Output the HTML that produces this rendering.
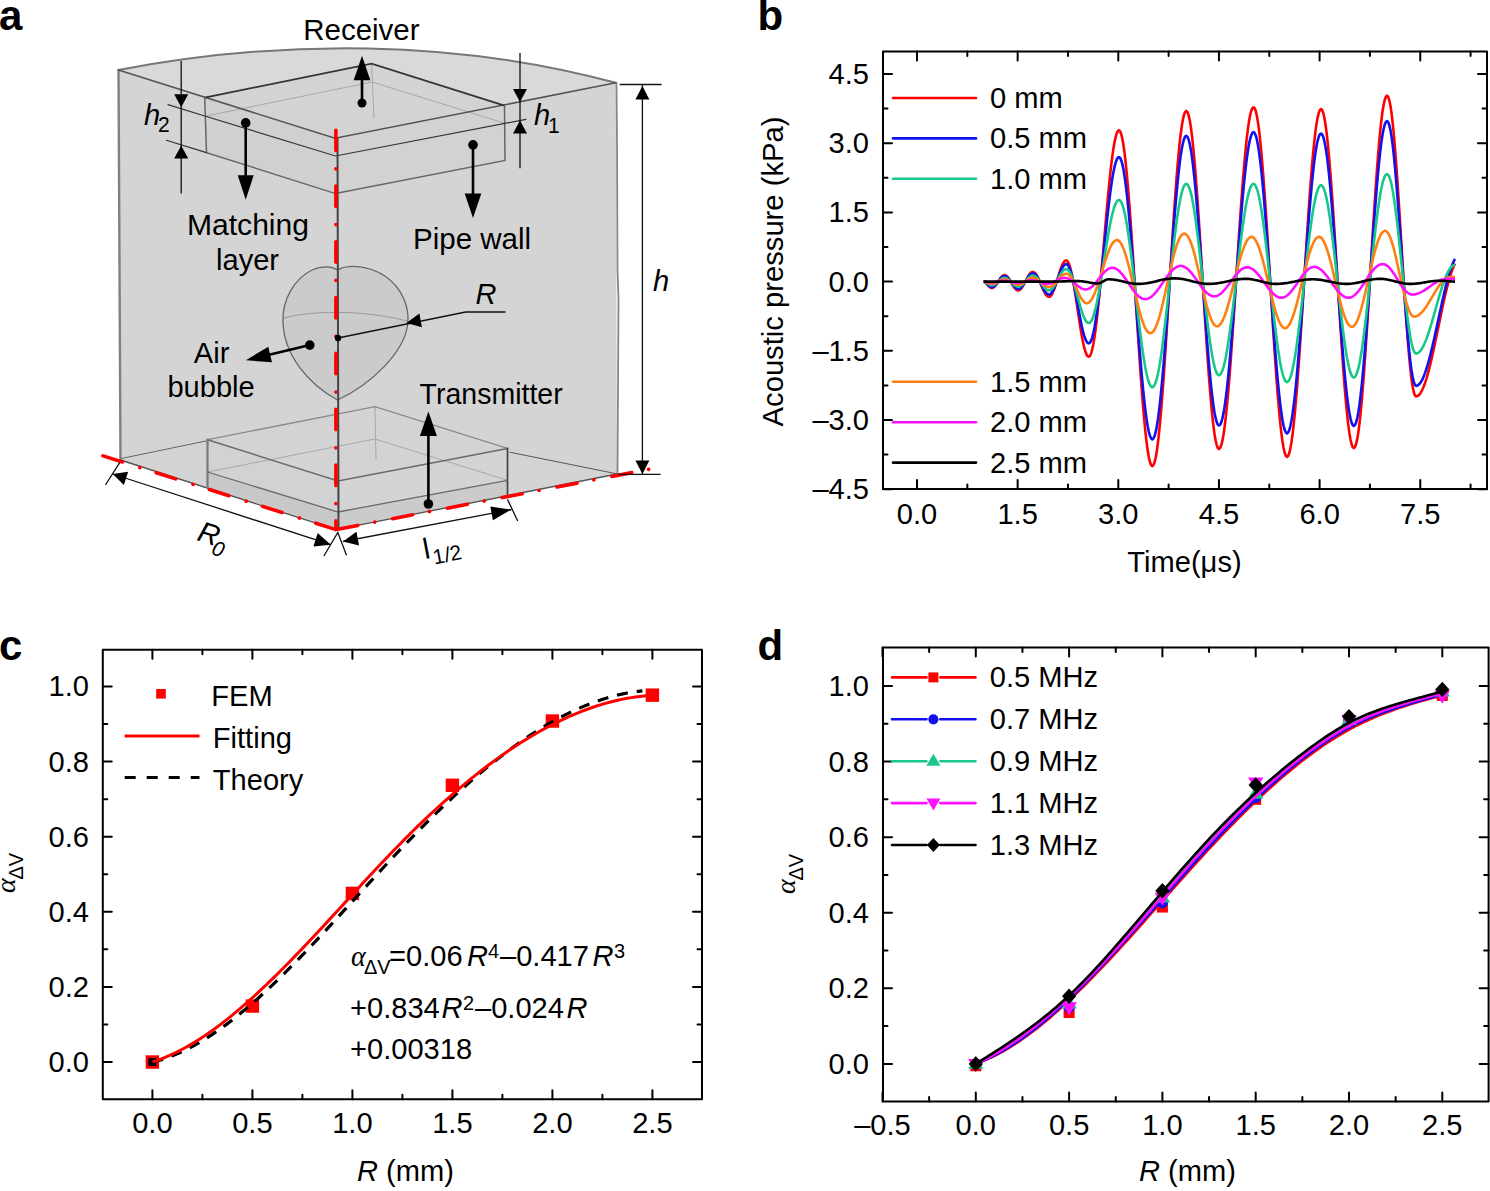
<!DOCTYPE html>
<html><head><meta charset="utf-8"><style>
html,body{margin:0;padding:0;background:#fff;}
svg{display:block;}
</style></head><body>
<svg width="1490" height="1191" viewBox="0 0 1490 1191">
<rect width="1490" height="1191" fill="#fff"/>
<path d="M118.5,70 C281.2,38.8 455.5,39.3 615.8,82.8 L617,474 L336,529.6 L120.5,460 Z" fill="#d4d4d4"/>
<path d="M118.5,70 C281.2,38.8 455.5,39.3 615.8,82.8 L335,138.3 Z" fill="#d9d9d9"/>
<path d="M204.7,97.6 L335.5,138.5 L335.5,193.6 L206.5,152.6 Z" fill="#d0d0d0"/>
<path d="M335.5,138.5 L504.5,105.6 L505,160.4 L335.5,193.6 Z" fill="#d2d2d2"/>
<path d="M204.7,97.6 L371.6,63.7 L504.5,105.6 L335.5,138.5 Z" fill="#d3d3d3"/>
<path d="M207.5,439.7 L338,481 L338,528 L207.5,487.7 Z" fill="#d2d2d2"/>
<path d="M338,481 L507.5,448.4 L507.5,495.6 L338,528 Z" fill="#d4d4d4"/>
<path d="M207.5,472 L338,512 L338,528 L207.5,487.7 Z" fill="#c8c8c8"/>
<path d="M338,512 L507.5,480.3 L507.5,495.6 L338,528 Z" fill="#cbcbcb"/>
<path d="M207.5,439.7 L375,406.6 L507.5,448.4 L338,481 Z" fill="#d3d3d3"/>
<path d="M337.6,270 C346,265 366,264 385,276 C402,288 410,307 407.6,325 C404,352 372,384 337.6,400 C308,384 284,355 283,322 C282,300 294,279 312,270 C322,266 331,266 337.6,270 Z" fill="#cbcbcb" stroke="#666" stroke-width="1.3"/>
<path d="M284,318 C310,311 360,309 407,321" fill="none" stroke="#999" stroke-width="1"/>
<g stroke="#a8a8a8" stroke-width="1" fill="none">
<path d="M120.8,458.6 L207.5,440.7" stroke="#666"/><path d="M509.7,452.2 L617.2,473.9" stroke="#555"/>
<path d="M371.6,63.7 L374,118.7"/><path d="M375,406.6 L376,460"/>
<path d="M206,116 L372,82 L504,123"/>
<path d="M207.5,472 L375,439 L507.5,480.3"/>
</g>
<g fill="none" stroke-linecap="round">
<path d="M118.5,70 C281.2,38.8 455.5,39.3 615.8,82.8" stroke="#777" stroke-width="2"/>
<path d="M118.5,70 L120.5,460" stroke="#808080" stroke-width="2.4"/>
<path d="M616.5,83 L617,140 L617.5,270 L618.5,300 L617.5,474" stroke="#868686" stroke-width="1.8"/>
<path d="M118.5,70 L335,138.3 L615.8,82.8" stroke="#555" stroke-width="1.6"/>
<path d="M120.5,460 L336,529.6 L617,474" stroke="#555" stroke-width="1.4"/>
<path d="M204.7,97.6 L371.6,63.7 L504.5,105.6" stroke="#333" stroke-width="1.7"/>
<path d="M204.7,97.6 L206.5,152.6 L335.5,193.6 L505,160.4 L504.5,105.6" stroke="#666" stroke-width="1.5"/>
<path d="M168,104.6 L204.7,116 L335.5,156 L526,119.4" stroke="#333" stroke-width="1.2"/>
<path d="M166.3,140.3 L206.5,152.6" stroke="#333" stroke-width="1.2"/>
<path d="M207.5,439.7 L375,406.6 L507.5,448.4" stroke="#8a8a8a" stroke-width="1.3"/>
<path d="M207.5,439.7 L338,481 L507.5,448.4" stroke="#6a6a6a" stroke-width="1.5"/>
<path d="M207.5,439.7 L207.5,487.7" stroke="#7a7a7a" stroke-width="2.2"/>
<path d="M507.5,448.4 L507.5,495.6" stroke="#444" stroke-width="1.7"/>
<path d="M207.5,472 L338,512 L507.5,480.3" stroke="#6a6a6a" stroke-width="1.3"/>
<path d="M337.5,138.5 L338.5,529" stroke="#444" stroke-width="2"/>
</g>
<g stroke="#ff0000" stroke-width="3.6" fill="none" stroke-linecap="round" stroke-dasharray="20.4 17.1 0.1 18.2">
<path d="M336,529.6 L99.6,454.8" stroke-dashoffset="-0.8"/>
<path d="M336,529.6 L651.6,468.8" stroke-dashoffset="-1.8"/>
<path d="M335.9,529.6 L335.9,127" stroke-dashoffset="11.6"/>
</g>
<g stroke="#111" stroke-width="1.3" fill="none">
<path d="M181.2,61 L181.2,193.6"/>
<path d="M520,53 L520,168.3"/>
<path d="M642.4,84.5 L642.4,474.4 M619.7,84.5 L661.6,84.5 M618.5,474.4 L660.6,474.4"/>
<path d="M112.7,474 L330.8,544.7"/>
<path d="M105.4,485 L119.7,462.7 M323.9,556 L337.8,532.5 L346.5,555.2"/>
<path d="M343,541.5 L511.3,509.6 M507.5,499.4 L517.7,521"/>
<path d="M338,338 L465.6,312 L505.5,312"/>
</g>
<polygon points="181.2,107.2 174.2,94.2 188.2,94.2" fill="#000"/>
<polygon points="181.2,145.6 188.2,158.6 174.2,158.6" fill="#000"/>
<polygon points="520,102 513,89 527,89" fill="#000"/>
<polygon points="520,120.4 527,133.4 513,133.4" fill="#000"/>
<polygon points="642.4,86 649.4,99.5 635.4,99.5" fill="#000"/>
<polygon points="642.4,474 635.4,460.5 649.4,460.5" fill="#000"/>
<polygon points="112.7,474 128.18,471.66 123.86,484.98" fill="#000"/>
<polygon points="330.8,544.7 313.42,546.43 317.74,533.11" fill="#000"/>
<polygon points="343,541.5 356.43,531.83 359.04,545.58" fill="#000"/>
<polygon points="511.3,509.6 492.95,520.2 490.35,506.45" fill="#000"/>
<polygon points="406.4,322.9 419.39,313.39 421.93,327.16" fill="#000"/>
<g stroke="#000" stroke-width="2.6" fill="none">
<path d="M362,103 L362,70"/>
<path d="M245.7,122.9 L245.7,180"/>
<path d="M473,144.9 L473,200"/>
<path d="M309.8,345.1 L262,356.5"/>
<path d="M428.4,504 L428.4,425"/>
</g>
<circle cx="362" cy="103" r="4.5" fill="#000"/>
<circle cx="245.7" cy="122.9" r="4.8" fill="#000"/>
<circle cx="473" cy="144.9" r="4.8" fill="#000"/>
<circle cx="309.8" cy="345.1" r="4.8" fill="#000"/>
<circle cx="428.4" cy="504" r="4.8" fill="#000"/>
<circle cx="338" cy="338" r="3.2" fill="#000"/>
<polygon points="362,55.8 370.3,80.3 353.7,80.3" fill="#000"/>
<polygon points="245.7,199.7 237.7,175.2 253.7,175.2" fill="#000"/>
<polygon points="473,218.1 464.7,193.6 481.3,193.6" fill="#000"/>
<polygon points="245.8,360.3 268.27,346.74 271.97,362.31" fill="#000"/>
<polygon points="428.4,411.4 436.9,436 419.9,436" fill="#000"/>
<text x="303.2" y="39.8" font-family='"Liberation Sans", sans-serif' font-size="29.1" lengthAdjust="spacingAndGlyphs" textLength="116.4" transform="matrix(1 0 0 1.045 0 -1.79)">Receiver</text>
<text x="187" y="234.7" font-family='"Liberation Sans", sans-serif' font-size="29.1" lengthAdjust="spacingAndGlyphs" textLength="122" transform="matrix(1 0 0 1.045 0 -10.56)">Matching</text>
<text x="216" y="269.7" font-family='"Liberation Sans", sans-serif' font-size="29.1" transform="matrix(1 0 0 1.045 0 -12.14)">layer</text>
<text x="413" y="248.7" font-family='"Liberation Sans", sans-serif' font-size="29.1" lengthAdjust="spacingAndGlyphs" textLength="118.1" transform="matrix(1 0 0 1.045 0 -11.19)">Pipe wall</text>
<text x="193.8" y="362.7" font-family='"Liberation Sans", sans-serif' font-size="29.1" transform="matrix(1 0 0 1.045 0 -16.32)">Air</text>
<text x="167.4" y="397.3" font-family='"Liberation Sans", sans-serif' font-size="29.1" transform="matrix(1 0 0 1.045 0 -17.88)">bubble</text>
<text x="419.6" y="403.7" font-family='"Liberation Sans", sans-serif' font-size="29.1" lengthAdjust="spacingAndGlyphs" textLength="143.1" transform="matrix(1 0 0 1.045 0 -18.17)">Transmitter</text>
<text x="475.5" y="304" font-family='"Liberation Sans", sans-serif' font-size="29.1" font-style="italic" transform="matrix(1 0 0 1.045 0 -13.68)">R</text>
<text x="653" y="290.8" font-family='"Liberation Sans", sans-serif' font-size="29.1" font-style="italic" transform="matrix(1 0 0 1.045 0 -13.09)">h</text>
<text x="144" y="124.6" font-family='"Liberation Sans", sans-serif' font-size="29.1" font-style="italic" transform="matrix(1 0 0 1.045 0 -5.61)">h</text>
<text x="158" y="132.5" font-family='"Liberation Sans", sans-serif' font-size="21" transform="matrix(1 0 0 1.045 0 -5.96)">2</text>
<text x="534" y="124.6" font-family='"Liberation Sans", sans-serif' font-size="29.1" font-style="italic" transform="matrix(1 0 0 1.045 0 -5.61)">h</text>
<text x="548" y="133.4" font-family='"Liberation Sans", sans-serif' font-size="21" transform="matrix(1 0 0 1.045 0 -6)">1</text>
<g transform="translate(196,540) rotate(17.6)"><text x="0" y="0" font-family='"Liberation Sans", sans-serif' font-size="29.1" font-style="italic">R</text><text x="18" y="9" font-family='"Liberation Sans", sans-serif' font-size="21" font-style="italic">0</text></g>
<g transform="translate(425,559) rotate(-10.8)"><text x="0" y="0" font-family='"Liberation Sans", sans-serif' font-size="29.1">l</text><text x="8" y="7" font-family='"Liberation Sans", sans-serif' font-size="21">1/2</text></g>
<rect x="883" y="51.6" width="604" height="437.4" fill="none" stroke="#000" stroke-width="2.0" stroke-linejoin="round"/>
<path d="M917,489v-9 M917,51.6v9 M1017.65,489v-9 M1017.65,51.6v9 M1118.3,489v-9 M1118.3,51.6v9 M1218.95,489v-9 M1218.95,51.6v9 M1319.6,489v-9 M1319.6,51.6v9 M1420.25,489v-9 M1420.25,51.6v9 M967.33,489v-4.5 M967.33,51.6v4.5 M1067.97,489v-4.5 M1067.97,51.6v4.5 M1168.62,489v-4.5 M1168.62,51.6v4.5 M1269.28,489v-4.5 M1269.28,51.6v4.5 M1369.92,489v-4.5 M1369.92,51.6v4.5 M1470.57,489v-4.5 M1470.57,51.6v4.5 M883,74.02h9 M1487,74.02h-9 M883,143.21h9 M1487,143.21h-9 M883,212.41h9 M1487,212.41h-9 M883,281.6h9 M1487,281.6h-9 M883,350.8h9 M1487,350.8h-9 M883,419.99h9 M1487,419.99h-9 M883,489.19h9 M1487,489.19h-9 M883,108.61h4.5 M1487,108.61h-4.5 M883,177.81h4.5 M1487,177.81h-4.5 M883,247h4.5 M1487,247h-4.5 M883,316.2h4.5 M1487,316.2h-4.5 M883,385.39h4.5 M1487,385.39h-4.5 M883,454.59h4.5 M1487,454.59h-4.5" stroke="#000" stroke-width="2.0" fill="none" stroke-linecap="round"/>
<text x="917" y="524.3" text-anchor="middle" font-family='"Liberation Sans", sans-serif' font-size="29.1" transform="matrix(1 0 0 1.045 0 -23.59)">0.0</text>
<text x="1017.65" y="524.3" text-anchor="middle" font-family='"Liberation Sans", sans-serif' font-size="29.1" transform="matrix(1 0 0 1.045 0 -23.59)">1.5</text>
<text x="1118.3" y="524.3" text-anchor="middle" font-family='"Liberation Sans", sans-serif' font-size="29.1" transform="matrix(1 0 0 1.045 0 -23.59)">3.0</text>
<text x="1218.95" y="524.3" text-anchor="middle" font-family='"Liberation Sans", sans-serif' font-size="29.1" transform="matrix(1 0 0 1.045 0 -23.59)">4.5</text>
<text x="1319.6" y="524.3" text-anchor="middle" font-family='"Liberation Sans", sans-serif' font-size="29.1" transform="matrix(1 0 0 1.045 0 -23.59)">6.0</text>
<text x="1420.25" y="524.3" text-anchor="middle" font-family='"Liberation Sans", sans-serif' font-size="29.1" transform="matrix(1 0 0 1.045 0 -23.59)">7.5</text>
<text x="869" y="84.02" text-anchor="end" font-family='"Liberation Sans", sans-serif' font-size="29.1" transform="matrix(1 0 0 1.045 0 -3.78)">4.5</text>
<text x="869" y="153.21" text-anchor="end" font-family='"Liberation Sans", sans-serif' font-size="29.1" transform="matrix(1 0 0 1.045 0 -6.89)">3.0</text>
<text x="869" y="222.41" text-anchor="end" font-family='"Liberation Sans", sans-serif' font-size="29.1" transform="matrix(1 0 0 1.045 0 -10.01)">1.5</text>
<text x="869" y="291.6" text-anchor="end" font-family='"Liberation Sans", sans-serif' font-size="29.1" transform="matrix(1 0 0 1.045 0 -13.12)">0.0</text>
<text x="869" y="360.8" text-anchor="end" font-family='"Liberation Sans", sans-serif' font-size="29.1" transform="matrix(1 0 0 1.045 0 -16.24)">–1.5</text>
<text x="869" y="429.99" text-anchor="end" font-family='"Liberation Sans", sans-serif' font-size="29.1" transform="matrix(1 0 0 1.045 0 -19.35)">–3.0</text>
<text x="869" y="499.19" text-anchor="end" font-family='"Liberation Sans", sans-serif' font-size="29.1" transform="matrix(1 0 0 1.045 0 -22.46)">–4.5</text>
<text x="1184.5" y="572.2" text-anchor="middle" font-family='"Liberation Sans", sans-serif' font-size="29.1" transform="matrix(1 0 0 1.045 0 -25.75)">Time(μs)</text>
<text transform="translate(783,271.5) rotate(-90)" text-anchor="middle" font-family='"Liberation Sans", sans-serif' font-size="29.2">Acoustic pressure (kPa)</text>
<path d="M983.5,281.6 L984.68,281.92 L985.87,282.82 L987.06,284.11 L988.25,285.55 L989.44,286.84 L990.63,287.74 L991.82,288.06 L992.97,287.8 L994.12,287.03 L995.28,285.83 L996.43,284.28 L997.58,282.52 L998.73,280.68 L999.89,278.92 L1001.04,277.37 L1002.19,276.17 L1003.35,275.4 L1004.5,275.14 L1005.64,275.4 L1006.78,276.16 L1007.92,277.37 L1009.06,278.95 L1010.2,280.78 L1011.34,282.75 L1012.48,284.72 L1013.62,286.56 L1014.76,288.14 L1015.91,289.34 L1017.05,290.11 L1018.19,290.36 L1019.32,290.1 L1020.45,289.31 L1021.58,288.04 L1022.71,286.38 L1023.84,284.41 L1024.97,282.25 L1026.1,280.03 L1027.23,277.87 L1028.36,275.9 L1029.49,274.23 L1030.62,272.97 L1031.75,272.18 L1032.88,271.91 L1034.03,272.22 L1035.18,273.15 L1036.33,274.63 L1037.48,276.6 L1038.63,278.96 L1039.78,281.6 L1040.93,284.37 L1042.08,287.14 L1043.23,289.77 L1044.38,292.13 L1045.53,294.11 L1046.69,295.59 L1047.84,296.51 L1048.99,296.82 L1050.14,296.42 L1051.28,295.25 L1052.43,293.34 L1053.58,290.79 L1054.73,287.71 L1055.88,284.23 L1057.03,280.51 L1058.18,276.7 L1059.33,272.97 L1060.48,269.49 L1061.63,266.41 L1062.78,263.86 L1063.93,261.96 L1065.08,260.78 L1066.23,260.38 L1067.36,260.97 L1068.48,262.74 L1069.61,265.63 L1070.74,269.59 L1071.87,274.5 L1072.99,280.25 L1074.12,286.7 L1075.25,293.69 L1076.38,301.04 L1077.5,308.59 L1078.63,316.13 L1079.76,323.48 L1080.89,330.47 L1082.01,336.92 L1083.14,342.67 L1084.27,347.59 L1085.39,351.54 L1086.52,354.43 L1087.65,356.2 L1088.78,356.79 L1089.94,355.97 L1091.1,353.5 L1092.26,349.43 L1093.42,343.82 L1094.58,336.74 L1095.74,328.31 L1096.91,318.64 L1098.07,307.88 L1099.23,296.17 L1100.39,283.7 L1101.55,270.65 L1102.71,257.19 L1103.87,243.54 L1105.03,229.89 L1106.2,216.44 L1107.36,203.38 L1108.52,190.91 L1109.68,179.21 L1110.84,168.44 L1112,158.77 L1113.16,150.34 L1114.33,143.27 L1115.49,137.65 L1116.65,133.58 L1117.81,131.12 L1118.97,130.29 L1120.12,131.28 L1121.27,134.22 L1122.42,139.08 L1123.57,145.81 L1124.72,154.33 L1125.87,164.53 L1127.02,176.3 L1128.17,189.5 L1129.32,203.98 L1130.47,219.55 L1131.62,236.06 L1132.77,253.29 L1133.92,271.04 L1135.07,289.12 L1136.22,307.3 L1137.37,325.37 L1138.52,343.13 L1139.67,360.36 L1140.82,376.86 L1141.97,392.44 L1143.12,406.91 L1144.27,420.11 L1145.42,431.88 L1146.57,442.08 L1147.72,450.6 L1148.87,457.33 L1150.02,462.19 L1151.17,465.14 L1152.32,466.12 L1153.45,465.15 L1154.58,462.24 L1155.71,457.43 L1156.85,450.77 L1157.98,442.33 L1159.11,432.2 L1160.24,420.5 L1161.37,407.36 L1162.51,392.91 L1163.64,377.32 L1164.77,360.76 L1165.9,343.4 L1167.03,325.44 L1168.16,307.08 L1169.3,288.52 L1170.43,269.96 L1171.56,251.59 L1172.69,233.64 L1173.82,216.28 L1174.95,199.72 L1176.09,184.13 L1177.22,169.68 L1178.35,156.54 L1179.48,144.84 L1180.61,134.71 L1181.75,126.27 L1182.88,119.61 L1184.01,114.8 L1185.14,111.89 L1186.27,110.92 L1187.4,111.91 L1188.53,114.87 L1189.65,119.77 L1190.78,126.54 L1191.91,135.12 L1193.03,145.39 L1194.16,157.24 L1195.29,170.53 L1196.41,185.11 L1197.54,200.79 L1198.67,217.41 L1199.79,234.76 L1200.92,252.63 L1202.05,270.83 L1203.17,289.14 L1204.3,307.34 L1205.43,325.22 L1206.56,342.56 L1207.68,359.18 L1208.81,374.86 L1209.94,389.44 L1211.06,402.73 L1212.19,414.58 L1213.32,424.85 L1214.44,433.43 L1215.57,440.2 L1216.7,445.1 L1217.82,448.06 L1218.95,449.05 L1220.1,448.12 L1221.25,445.32 L1222.41,440.69 L1223.56,434.28 L1224.71,426.15 L1225.86,416.41 L1227.01,405.15 L1228.17,392.5 L1229.32,378.6 L1230.47,363.6 L1231.62,347.66 L1232.77,330.95 L1233.92,313.67 L1235.08,296.01 L1236.23,278.14 L1237.38,260.28 L1238.53,242.61 L1239.68,225.33 L1240.84,208.62 L1241.99,192.68 L1243.14,177.68 L1244.29,163.78 L1245.44,151.13 L1246.6,139.87 L1247.75,130.13 L1248.9,122 L1250.05,115.59 L1251.2,110.96 L1252.35,108.16 L1253.51,107.23 L1254.66,108.25 L1255.82,111.32 L1256.97,116.38 L1258.12,123.39 L1259.28,132.25 L1260.43,142.88 L1261.59,155.13 L1262.74,168.88 L1263.9,183.95 L1265.05,200.17 L1266.21,217.35 L1267.36,235.29 L1268.52,253.78 L1269.67,272.6 L1270.83,291.53 L1271.98,310.35 L1273.13,328.83 L1274.29,346.77 L1275.44,363.95 L1276.6,380.18 L1277.75,395.25 L1278.91,408.99 L1280.06,421.24 L1281.22,431.87 L1282.37,440.74 L1283.53,447.74 L1284.68,452.81 L1285.83,455.87 L1286.99,456.89 L1288.12,455.94 L1289.26,453.09 L1290.39,448.38 L1291.53,441.86 L1292.66,433.59 L1293.79,423.68 L1294.93,412.22 L1296.06,399.35 L1297.2,385.21 L1298.33,369.94 L1299.46,353.72 L1300.6,336.73 L1301.73,319.14 L1302.87,301.16 L1304,282.98 L1305.13,264.81 L1306.27,246.83 L1307.4,229.24 L1308.54,212.25 L1309.67,196.03 L1310.8,180.76 L1311.94,166.62 L1313.07,153.74 L1314.21,142.29 L1315.34,132.37 L1316.47,124.11 L1317.61,117.59 L1318.74,112.87 L1319.88,110.03 L1321.01,109.07 L1322.14,110.07 L1323.27,113.04 L1324.4,117.95 L1325.53,124.74 L1326.67,133.34 L1327.8,143.64 L1328.93,155.53 L1330.06,168.85 L1331.19,183.46 L1332.32,199.19 L1333.45,215.85 L1334.59,233.25 L1335.72,251.18 L1336.85,269.42 L1337.98,287.78 L1339.11,306.03 L1340.24,323.96 L1341.38,341.35 L1342.51,358.01 L1343.64,373.74 L1344.77,388.35 L1345.9,401.68 L1347.03,413.56 L1348.16,423.86 L1349.3,432.46 L1350.43,439.26 L1351.56,444.17 L1352.69,447.14 L1353.82,448.13 L1354.97,447.1 L1356.11,444.01 L1357.26,438.9 L1358.4,431.84 L1359.55,422.91 L1360.69,412.2 L1361.84,399.85 L1362.98,385.99 L1364.13,370.8 L1365.27,354.45 L1366.42,337.14 L1367.56,319.06 L1368.71,300.42 L1369.86,281.45 L1371,262.37 L1372.15,243.4 L1373.29,224.77 L1374.44,206.69 L1375.58,189.37 L1376.73,173.02 L1377.87,157.83 L1379.02,143.98 L1380.16,131.63 L1381.31,120.92 L1382.45,111.98 L1383.6,104.92 L1384.74,99.82 L1385.89,96.73 L1387.04,95.7 L1388.19,96.88 L1389.35,100.42 L1390.51,106.26 L1391.67,114.3 L1392.83,124.42 L1393.99,136.45 L1395.15,150.22 L1396.31,165.5 L1397.47,182.05 L1398.63,199.61 L1399.79,217.9 L1400.95,236.64 L1402.11,255.52 L1403.27,274.26 L1404.43,292.55 L1405.59,310.11 L1406.75,326.66 L1407.91,341.94 L1409.07,355.7 L1410.23,367.74 L1411.38,377.86 L1412.54,385.9 L1413.7,391.74 L1414.86,395.28 L1416.02,396.46 L1417.16,396.24 L1418.3,395.57 L1419.44,394.46 L1420.59,392.91 L1421.73,390.95 L1422.87,388.56 L1424.01,385.79 L1425.15,382.63 L1426.29,379.12 L1427.43,375.27 L1428.57,371.12 L1429.71,366.68 L1430.85,361.98 L1431.99,357.06 L1433.13,351.95 L1434.27,346.69 L1435.41,341.29 L1436.56,335.81 L1437.7,330.28 L1438.84,324.72 L1439.98,319.19 L1441.12,313.7 L1442.26,308.31 L1443.4,303.04 L1444.54,297.93 L1445.68,293.02 L1446.82,288.32 L1447.96,283.88 L1449.1,279.73 L1450.24,275.88 L1451.38,272.37 L1452.53,269.21 L1453.67,266.43 L1454.81,264.05 L1455.01,263.68" fill="none" stroke="#ff0000" stroke-width="2.6" stroke-linejoin="round"/>
<path d="M983.5,281.6 L984.68,281.87 L985.87,282.64 L987.06,283.75 L988.25,284.98 L989.44,286.09 L990.63,286.86 L991.82,287.14 L992.97,286.91 L994.12,286.26 L995.28,285.23 L996.43,283.9 L997.58,282.39 L998.73,280.81 L999.89,279.3 L1001.04,277.97 L1002.19,276.94 L1003.35,276.29 L1004.5,276.06 L1005.64,276.28 L1006.78,276.93 L1007.92,277.96 L1009.06,279.29 L1010.2,280.85 L1011.34,282.52 L1012.48,284.19 L1013.62,285.75 L1014.76,287.09 L1015.91,288.12 L1017.05,288.76 L1018.19,288.98 L1019.32,288.75 L1020.45,288.08 L1021.58,287.01 L1022.71,285.59 L1023.84,283.92 L1024.97,282.08 L1026.1,280.19 L1027.23,278.36 L1028.36,276.68 L1029.49,275.27 L1030.62,274.19 L1031.75,273.52 L1032.88,273.3 L1034.03,273.56 L1035.18,274.35 L1036.33,275.61 L1037.48,277.29 L1038.63,279.3 L1039.78,281.55 L1040.93,283.91 L1042.08,286.27 L1043.23,288.51 L1044.38,290.52 L1045.53,292.2 L1046.69,293.47 L1047.84,294.25 L1048.99,294.52 L1050.14,294.18 L1051.28,293.2 L1052.43,291.61 L1053.58,289.48 L1054.73,286.9 L1055.88,284 L1057.03,280.88 L1058.18,277.7 L1059.33,274.59 L1060.48,271.68 L1061.63,269.11 L1062.78,266.98 L1063.93,265.39 L1065.08,264.4 L1066.23,264.07 L1067.36,264.56 L1068.48,266.01 L1069.61,268.39 L1070.74,271.65 L1071.87,275.69 L1072.99,280.42 L1074.12,285.73 L1075.25,291.48 L1076.38,297.54 L1077.5,303.74 L1078.63,309.95 L1079.76,316 L1080.89,321.75 L1082.01,327.06 L1083.14,331.79 L1084.27,335.84 L1085.39,339.09 L1086.52,341.47 L1087.65,342.93 L1088.78,343.41 L1089.94,342.73 L1091.1,340.71 L1092.26,337.36 L1093.42,332.74 L1094.58,326.92 L1095.74,319.98 L1096.91,312.02 L1098.07,303.17 L1099.23,293.54 L1100.39,283.27 L1101.55,272.53 L1102.71,261.46 L1103.87,250.23 L1105.03,239 L1106.2,227.93 L1107.36,217.19 L1108.52,206.93 L1109.68,197.3 L1110.84,188.44 L1112,180.48 L1113.16,173.54 L1114.33,167.72 L1115.49,163.1 L1116.65,159.76 L1117.81,157.73 L1118.97,157.05 L1120.12,157.88 L1121.27,160.35 L1122.42,164.44 L1123.57,170.1 L1124.72,177.25 L1125.87,185.83 L1127.02,195.73 L1128.17,206.82 L1129.32,218.99 L1130.47,232.09 L1131.62,245.96 L1132.77,260.44 L1133.92,275.37 L1135.07,290.56 L1136.22,305.85 L1137.37,321.04 L1138.52,335.97 L1139.67,350.45 L1140.82,364.33 L1141.97,377.42 L1143.12,389.59 L1144.27,400.69 L1145.42,410.58 L1146.57,419.16 L1147.72,426.32 L1148.87,431.98 L1150.02,436.06 L1151.17,438.54 L1152.32,439.36 L1153.45,438.53 L1154.58,436.05 L1155.71,431.94 L1156.85,426.24 L1157.98,419.03 L1159.11,410.38 L1160.24,400.38 L1161.37,389.15 L1162.51,376.8 L1163.64,363.48 L1164.77,349.33 L1165.9,334.5 L1167.03,319.15 L1168.16,303.46 L1169.3,287.6 L1170.43,271.73 L1171.56,256.04 L1172.69,240.7 L1173.82,225.87 L1174.95,211.71 L1176.09,198.39 L1177.22,186.04 L1178.35,174.81 L1179.48,164.81 L1180.61,156.16 L1181.75,148.95 L1182.88,143.26 L1184.01,139.15 L1185.14,136.66 L1186.27,135.83 L1187.4,136.68 L1188.53,139.22 L1189.65,143.41 L1190.78,149.22 L1191.91,156.56 L1193.03,165.36 L1194.16,175.52 L1195.29,186.9 L1196.41,199.39 L1197.54,212.83 L1198.67,227.06 L1199.79,241.93 L1200.92,257.24 L1202.05,272.84 L1203.17,288.52 L1204.3,304.11 L1205.43,319.43 L1206.56,334.29 L1207.68,348.53 L1208.81,361.96 L1209.94,374.45 L1211.06,385.84 L1212.19,395.99 L1213.32,404.79 L1214.44,412.14 L1215.57,417.94 L1216.7,422.14 L1217.82,424.68 L1218.95,425.53 L1220.1,424.72 L1221.25,422.32 L1222.41,418.35 L1223.56,412.84 L1224.71,405.87 L1225.86,397.51 L1227.01,387.85 L1228.17,376.99 L1229.32,365.06 L1230.47,352.18 L1231.62,338.5 L1232.77,324.16 L1233.92,309.33 L1235.08,294.17 L1236.23,278.83 L1237.38,263.5 L1238.53,248.33 L1239.68,233.5 L1240.84,219.17 L1241.99,205.49 L1243.14,192.61 L1244.29,180.68 L1245.44,169.82 L1246.6,160.15 L1247.75,151.79 L1248.9,144.82 L1250.05,139.32 L1251.2,135.34 L1252.35,132.94 L1253.51,132.14 L1254.66,133.02 L1255.82,135.66 L1256.97,140.02 L1258.12,146.06 L1259.28,153.7 L1260.43,162.85 L1261.59,173.41 L1262.74,185.25 L1263.9,198.23 L1265.05,212.2 L1266.21,227.01 L1267.36,242.46 L1268.52,258.39 L1269.67,274.6 L1270.83,290.91 L1271.98,307.12 L1273.13,323.05 L1274.29,338.5 L1275.44,353.3 L1276.6,367.28 L1277.75,380.26 L1278.91,392.1 L1280.06,402.66 L1281.22,411.81 L1282.37,419.45 L1283.53,425.48 L1284.68,429.85 L1285.83,432.48 L1286.99,433.37 L1288.12,432.55 L1289.26,430.09 L1290.39,426.03 L1291.53,420.41 L1292.66,413.28 L1293.79,404.74 L1294.93,394.86 L1296.06,383.76 L1297.2,371.57 L1298.33,358.41 L1299.46,344.42 L1300.6,329.77 L1301.73,314.62 L1302.87,299.12 L1304,283.45 L1305.13,267.77 L1306.27,252.27 L1307.4,237.12 L1308.54,222.47 L1309.67,208.48 L1310.8,195.32 L1311.94,183.13 L1313.07,172.03 L1314.21,162.16 L1315.34,153.61 L1316.47,146.48 L1317.61,140.86 L1318.74,136.8 L1319.88,134.34 L1321.01,133.52 L1322.14,134.38 L1323.27,136.94 L1324.4,141.18 L1325.53,147.04 L1326.67,154.45 L1327.8,163.34 L1328.93,173.59 L1330.06,185.09 L1331.19,197.69 L1332.32,211.26 L1333.45,225.63 L1334.59,240.63 L1335.72,256.1 L1336.85,271.84 L1337.98,287.67 L1339.11,303.41 L1340.24,318.88 L1341.38,333.88 L1342.51,348.25 L1343.64,361.82 L1344.77,374.42 L1345.9,385.92 L1347.03,396.17 L1348.16,405.05 L1349.3,412.47 L1350.43,418.33 L1351.56,422.57 L1352.69,425.13 L1353.82,425.99 L1354.97,425.09 L1356.11,422.42 L1357.26,418.01 L1358.4,411.9 L1359.55,404.16 L1360.69,394.9 L1361.84,384.21 L1362.98,372.23 L1364.13,359.09 L1365.27,344.94 L1366.42,329.96 L1367.56,314.31 L1368.71,298.19 L1369.86,281.78 L1371,265.27 L1372.15,248.86 L1373.29,232.74 L1374.44,217.1 L1375.58,202.11 L1376.73,187.97 L1377.87,174.83 L1379.02,162.84 L1380.16,152.16 L1381.31,142.89 L1382.45,135.16 L1383.6,129.05 L1384.74,124.63 L1385.89,121.96 L1387.04,121.07 L1388.19,122.11 L1389.35,125.23 L1390.51,130.36 L1391.67,137.44 L1392.83,146.35 L1393.99,156.95 L1395.15,169.07 L1396.31,182.52 L1397.47,197.09 L1398.63,212.55 L1399.79,228.65 L1400.95,245.15 L1402.11,261.77 L1403.27,278.27 L1404.43,294.37 L1405.59,309.83 L1406.75,324.4 L1407.91,337.85 L1409.07,349.97 L1410.23,360.57 L1411.38,369.48 L1412.54,376.56 L1413.7,381.69 L1414.86,384.81 L1416.02,385.85 L1417.16,385.64 L1418.3,385 L1419.44,383.94 L1420.59,382.46 L1421.73,380.58 L1422.87,378.3 L1424.01,375.64 L1425.15,372.62 L1426.29,369.26 L1427.43,365.58 L1428.57,361.61 L1429.71,357.36 L1430.85,352.87 L1431.99,348.17 L1433.13,343.28 L1434.27,338.24 L1435.41,333.08 L1436.56,327.84 L1437.7,322.54 L1438.84,317.23 L1439.98,311.94 L1441.12,306.69 L1442.26,301.54 L1443.4,296.5 L1444.54,291.61 L1445.68,286.9 L1446.82,282.41 L1447.96,278.17 L1449.1,274.19 L1450.24,270.51 L1451.38,267.15 L1452.53,264.13 L1453.67,261.48 L1454.81,259.2 L1455.01,258.84" fill="none" stroke="#1010f0" stroke-width="2.6" stroke-linejoin="round"/>
<path d="M983.5,281.6 L984.68,281.78 L985.87,282.29 L987.06,283.03 L988.25,283.86 L989.44,284.6 L990.63,285.11 L991.82,285.29 L992.97,285.14 L994.12,284.7 L995.28,284.02 L996.43,283.13 L997.58,282.13 L998.73,281.07 L999.89,280.07 L1001.04,279.18 L1002.19,278.5 L1003.35,278.06 L1004.5,277.91 L1005.64,278.06 L1006.78,278.5 L1007.92,279.19 L1009.06,280.1 L1010.2,281.16 L1011.34,282.29 L1012.48,283.43 L1013.62,284.48 L1014.76,285.39 L1015.91,286.09 L1017.05,286.52 L1018.19,286.67 L1019.32,286.51 L1020.45,286.04 L1021.58,285.28 L1022.71,284.28 L1023.84,283.1 L1024.97,281.81 L1026.1,280.47 L1027.23,279.18 L1028.36,277.99 L1029.49,277 L1030.62,276.24 L1031.75,275.76 L1032.88,275.6 L1034.03,275.79 L1035.18,276.33 L1036.33,277.21 L1037.48,278.38 L1038.63,279.78 L1039.78,281.34 L1040.93,282.98 L1042.08,284.63 L1043.23,286.19 L1044.38,287.59 L1045.53,288.75 L1046.69,289.63 L1047.84,290.18 L1048.99,290.36 L1050.14,290.13 L1051.28,289.45 L1052.43,288.34 L1053.58,286.85 L1054.73,285.06 L1055.88,283.03 L1057.03,280.86 L1058.18,278.65 L1059.33,276.48 L1060.48,274.45 L1061.63,272.66 L1062.78,271.17 L1063.93,270.06 L1065.08,269.38 L1066.23,269.14 L1067.36,269.48 L1068.48,270.47 L1069.61,272.09 L1070.74,274.3 L1071.87,277.05 L1072.99,280.27 L1074.12,283.88 L1075.25,287.79 L1076.38,291.91 L1077.5,296.13 L1078.63,300.35 L1079.76,304.47 L1080.89,308.38 L1082.01,311.99 L1083.14,315.21 L1084.27,317.96 L1085.39,320.18 L1086.52,321.8 L1087.65,322.78 L1088.78,323.12 L1089.94,322.67 L1091.1,321.33 L1092.26,319.12 L1093.42,316.06 L1094.58,312.22 L1095.74,307.63 L1096.91,302.37 L1098.07,296.52 L1099.23,290.15 L1100.39,283.37 L1101.55,276.27 L1102.71,268.96 L1103.87,261.53 L1105.03,254.11 L1106.2,246.8 L1107.36,239.7 L1108.52,232.91 L1109.68,226.55 L1110.84,220.7 L1112,215.44 L1113.16,210.85 L1114.33,207 L1115.49,203.95 L1116.65,201.74 L1117.81,200.4 L1118.97,199.95 L1120.12,200.5 L1121.27,202.14 L1122.42,204.85 L1123.57,208.6 L1124.72,213.35 L1125.87,219.04 L1127.02,225.61 L1128.17,232.97 L1129.32,241.04 L1130.47,249.73 L1131.62,258.93 L1132.77,268.54 L1133.92,278.44 L1135.07,288.52 L1136.22,298.66 L1137.37,308.74 L1138.52,318.65 L1139.67,328.25 L1140.82,337.46 L1141.97,346.15 L1143.12,354.22 L1144.27,361.58 L1145.42,368.14 L1146.57,373.83 L1147.72,378.58 L1148.87,382.34 L1150.02,385.05 L1151.17,386.69 L1152.32,387.24 L1153.45,386.68 L1154.58,385.01 L1155.71,382.26 L1156.85,378.44 L1157.98,373.61 L1159.11,367.81 L1160.24,361.11 L1161.37,353.58 L1162.51,345.31 L1163.64,336.38 L1164.77,326.89 L1165.9,316.95 L1167.03,306.67 L1168.16,296.15 L1169.3,285.52 L1170.43,274.89 L1171.56,264.37 L1172.69,254.09 L1173.82,244.15 L1174.95,234.66 L1176.09,225.73 L1177.22,217.46 L1178.35,209.93 L1179.48,203.23 L1180.61,197.43 L1181.75,192.6 L1182.88,188.78 L1184.01,186.03 L1185.14,184.36 L1186.27,183.8 L1187.4,184.37 L1188.53,186.04 L1189.65,188.82 L1190.78,192.65 L1191.91,197.51 L1193.03,203.32 L1194.16,210.03 L1195.29,217.56 L1196.41,225.81 L1197.54,234.69 L1198.67,244.09 L1199.79,253.92 L1200.92,264.04 L1202.05,274.34 L1203.17,284.71 L1204.3,295.01 L1205.43,305.13 L1206.56,314.95 L1207.68,324.36 L1208.81,333.24 L1209.94,341.49 L1211.06,349.02 L1212.19,355.73 L1213.32,361.54 L1214.44,366.4 L1215.57,370.23 L1216.7,373.01 L1217.82,374.68 L1218.95,375.24 L1220.1,374.72 L1221.25,373.15 L1222.41,370.56 L1223.56,366.97 L1224.71,362.42 L1225.86,356.96 L1227.01,350.66 L1228.17,343.57 L1229.32,335.79 L1230.47,327.38 L1231.62,318.46 L1232.77,309.1 L1233.92,299.43 L1235.08,289.53 L1236.23,279.52 L1237.38,269.52 L1238.53,259.62 L1239.68,249.95 L1240.84,240.59 L1241.99,231.66 L1243.14,223.26 L1244.29,215.48 L1245.44,208.39 L1246.6,202.09 L1247.75,196.63 L1248.9,192.08 L1250.05,188.49 L1251.2,185.9 L1252.35,184.33 L1253.51,183.8 L1254.66,184.39 L1255.82,186.12 L1256.97,189 L1258.12,192.97 L1259.28,198 L1260.43,204.03 L1261.59,210.98 L1262.74,218.78 L1263.9,227.33 L1265.05,236.53 L1266.21,246.27 L1267.36,256.45 L1268.52,266.94 L1269.67,277.61 L1270.83,288.35 L1271.98,299.03 L1273.13,309.52 L1274.29,319.69 L1275.44,329.44 L1276.6,338.64 L1277.75,347.19 L1278.91,354.99 L1280.06,361.94 L1281.22,367.97 L1282.37,373 L1283.53,376.97 L1284.68,379.84 L1285.83,381.58 L1286.99,382.16 L1288.12,381.62 L1289.26,380.01 L1290.39,377.34 L1291.53,373.65 L1292.66,368.97 L1293.79,363.35 L1294.93,356.87 L1296.06,349.58 L1297.2,341.57 L1298.33,332.92 L1299.46,323.73 L1300.6,314.11 L1301.73,304.15 L1302.87,293.97 L1304,283.68 L1305.13,273.38 L1306.27,263.2 L1307.4,253.24 L1308.54,243.62 L1309.67,234.43 L1310.8,225.79 L1311.94,217.77 L1313.07,210.49 L1314.21,204 L1315.34,198.38 L1316.47,193.7 L1317.61,190.01 L1318.74,187.34 L1319.88,185.73 L1321.01,185.19 L1322.14,185.75 L1323.27,187.44 L1324.4,190.22 L1325.53,194.08 L1326.67,198.96 L1327.8,204.8 L1328.93,211.54 L1330.06,219.1 L1331.19,227.39 L1332.32,236.32 L1333.45,245.77 L1334.59,255.64 L1335.72,265.81 L1336.85,276.16 L1337.98,286.58 L1339.11,296.93 L1340.24,307.1 L1341.38,316.97 L1342.51,326.42 L1343.64,335.34 L1344.77,343.64 L1345.9,351.2 L1347.03,357.94 L1348.16,363.78 L1349.3,368.66 L1350.43,372.52 L1351.56,375.3 L1352.69,376.99 L1353.82,377.55 L1354.97,376.95 L1356.11,375.17 L1357.26,372.23 L1358.4,368.15 L1359.55,362.99 L1360.69,356.81 L1361.84,349.68 L1362.98,341.68 L1364.13,332.92 L1365.27,323.48 L1366.42,313.48 L1367.56,303.05 L1368.71,292.29 L1369.86,281.34 L1371,270.33 L1372.15,259.38 L1373.29,248.62 L1374.44,238.18 L1375.58,228.19 L1376.73,218.75 L1377.87,209.98 L1379.02,201.99 L1380.16,194.86 L1381.31,188.68 L1382.45,183.52 L1383.6,179.44 L1384.74,176.5 L1385.89,174.71 L1387.04,174.12 L1388.19,174.82 L1389.35,176.94 L1390.51,180.42 L1391.67,185.22 L1392.83,191.25 L1393.99,198.43 L1395.15,206.65 L1396.31,215.76 L1397.47,225.64 L1398.63,236.11 L1399.79,247.03 L1400.95,258.21 L1402.11,269.47 L1403.27,280.65 L1404.43,291.57 L1405.59,302.04 L1406.75,311.92 L1407.91,321.03 L1409.07,329.25 L1410.23,336.43 L1411.38,342.46 L1412.54,347.26 L1413.7,350.74 L1414.86,352.86 L1416.02,353.56 L1417.17,353.37 L1418.32,352.81 L1419.46,351.87 L1420.61,350.57 L1421.76,348.92 L1422.9,346.93 L1424.05,344.62 L1425.2,342 L1426.34,339.11 L1427.49,335.97 L1428.64,332.59 L1429.78,329.02 L1430.93,325.28 L1432.08,321.4 L1433.22,317.42 L1434.37,313.36 L1435.52,309.28 L1436.66,305.19 L1437.81,301.14 L1438.96,297.16 L1440.1,293.28 L1441.25,289.54 L1442.39,285.97 L1443.54,282.59 L1444.69,279.44 L1445.83,276.55 L1446.98,273.94 L1448.13,271.63 L1449.27,269.64 L1450.42,267.98 L1451.57,266.68 L1452.71,265.75 L1453.86,265.18 L1455.01,264.99" fill="none" stroke="#18c888" stroke-width="2.6" stroke-linejoin="round"/>
<path d="M983.5,281.6 L984.68,281.71 L985.87,282.03 L987.06,282.5 L988.25,283.01 L989.44,283.47 L990.63,283.79 L991.82,283.91 L992.97,283.81 L994.12,283.54 L995.28,283.11 L996.43,282.56 L997.58,281.93 L998.73,281.27 L999.89,280.64 L1001.04,280.09 L1002.19,279.66 L1003.35,279.39 L1004.5,279.29 L1005.64,279.39 L1006.78,279.66 L1007.92,280.1 L1009.06,280.68 L1010.2,281.34 L1011.34,282.06 L1012.48,282.78 L1013.62,283.45 L1014.76,284.02 L1015.91,284.46 L1017.05,284.73 L1018.19,284.83 L1019.32,284.73 L1020.45,284.43 L1021.58,283.96 L1022.71,283.33 L1023.84,282.6 L1024.97,281.79 L1026.1,280.95 L1027.23,280.14 L1028.36,279.4 L1029.49,278.78 L1030.62,278.31 L1031.75,278.01 L1032.88,277.91 L1034.03,278.03 L1035.18,278.37 L1036.33,278.92 L1037.48,279.65 L1038.63,280.52 L1039.78,281.5 L1040.93,282.52 L1042.08,283.55 L1043.23,284.52 L1044.38,285.4 L1045.53,286.13 L1046.69,286.68 L1047.84,287.02 L1048.99,287.14 L1050.14,286.99 L1051.28,286.56 L1052.43,285.86 L1053.58,284.92 L1054.73,283.79 L1055.88,282.51 L1057.03,281.15 L1058.18,279.75 L1059.33,278.38 L1060.48,277.1 L1061.63,275.97 L1062.78,275.04 L1063.93,274.34 L1065.08,273.9 L1066.23,273.76 L1067.37,273.98 L1068.51,274.65 L1069.65,275.74 L1070.79,277.21 L1071.93,279.03 L1073.07,281.14 L1074.22,283.47 L1075.36,285.96 L1076.5,288.52 L1077.64,291.08 L1078.78,293.57 L1079.92,295.9 L1081.06,298.01 L1082.2,299.83 L1083.34,301.3 L1084.48,302.39 L1085.62,303.06 L1086.76,303.28 L1087.92,303.05 L1089.09,302.36 L1090.25,301.23 L1091.41,299.66 L1092.57,297.69 L1093.73,295.33 L1094.89,292.64 L1096.05,289.63 L1097.22,286.37 L1098.38,282.89 L1099.54,279.24 L1100.7,275.49 L1101.86,271.68 L1103.02,267.87 L1104.18,264.12 L1105.34,260.48 L1106.51,257 L1107.67,253.73 L1108.83,250.73 L1109.99,248.03 L1111.15,245.68 L1112.31,243.7 L1113.47,242.14 L1114.64,241 L1115.8,240.31 L1116.96,240.08 L1118.11,240.36 L1119.26,241.17 L1120.41,242.52 L1121.56,244.39 L1122.71,246.75 L1123.86,249.58 L1125.01,252.85 L1126.16,256.51 L1127.31,260.53 L1128.46,264.85 L1129.61,269.43 L1130.76,274.21 L1131.91,279.14 L1133.06,284.15 L1134.21,289.2 L1135.36,294.21 L1136.51,299.14 L1137.66,303.92 L1138.81,308.5 L1139.96,312.82 L1141.11,316.84 L1142.26,320.5 L1143.41,323.77 L1144.56,326.6 L1145.71,328.96 L1146.86,330.83 L1148.01,332.18 L1149.16,332.99 L1150.31,333.27 L1151.44,332.99 L1152.57,332.18 L1153.7,330.83 L1154.83,328.96 L1155.97,326.59 L1157.1,323.75 L1158.23,320.47 L1159.36,316.78 L1160.49,312.73 L1161.62,308.36 L1162.76,303.71 L1163.89,298.84 L1165.02,293.8 L1166.15,288.65 L1167.28,283.45 L1168.41,278.24 L1169.55,273.09 L1170.68,268.05 L1171.81,263.18 L1172.94,258.54 L1174.07,254.16 L1175.21,250.11 L1176.34,246.42 L1177.47,243.14 L1178.6,240.3 L1179.73,237.93 L1180.86,236.06 L1182,234.71 L1183.13,233.9 L1184.26,233.62 L1185.39,233.9 L1186.51,234.71 L1187.64,236.05 L1188.77,237.91 L1189.89,240.26 L1191.02,243.08 L1192.15,246.33 L1193.27,249.97 L1194.4,253.97 L1195.53,258.27 L1196.65,262.83 L1197.78,267.58 L1198.91,272.49 L1200.03,277.48 L1201.16,282.5 L1202.29,287.49 L1203.42,292.39 L1204.54,297.15 L1205.67,301.7 L1206.8,306 L1207.92,310 L1209.05,313.64 L1210.18,316.89 L1211.3,319.71 L1212.43,322.06 L1213.56,323.92 L1214.68,325.26 L1215.81,326.07 L1216.94,326.35 L1218.09,326.1 L1219.24,325.37 L1220.39,324.16 L1221.54,322.48 L1222.7,320.35 L1223.85,317.8 L1225,314.85 L1226.15,311.54 L1227.3,307.9 L1228.46,303.97 L1229.61,299.8 L1230.76,295.43 L1231.91,290.9 L1233.06,286.28 L1234.22,281.6 L1235.37,276.92 L1236.52,272.3 L1237.67,267.77 L1238.82,263.4 L1239.97,259.23 L1241.13,255.3 L1242.28,251.66 L1243.43,248.35 L1244.58,245.4 L1245.73,242.85 L1246.89,240.72 L1248.04,239.04 L1249.19,237.83 L1250.34,237.1 L1251.49,236.85 L1252.65,237.12 L1253.8,237.92 L1254.96,239.24 L1256.11,241.07 L1257.27,243.39 L1258.42,246.17 L1259.58,249.37 L1260.73,252.96 L1261.88,256.89 L1263.04,261.13 L1264.19,265.62 L1265.35,270.3 L1266.5,275.13 L1267.66,280.05 L1268.81,285 L1269.97,289.91 L1271.12,294.74 L1272.28,299.43 L1273.43,303.91 L1274.59,308.15 L1275.74,312.09 L1276.89,315.68 L1278.05,318.88 L1279.2,321.65 L1280.36,323.97 L1281.51,325.8 L1282.67,327.12 L1283.82,327.92 L1284.98,328.19 L1286.11,327.94 L1287.24,327.19 L1288.38,325.96 L1289.51,324.24 L1290.65,322.07 L1291.78,319.47 L1292.91,316.46 L1294.05,313.08 L1295.18,309.37 L1296.32,305.36 L1297.45,301.1 L1298.58,296.64 L1299.72,292.02 L1300.85,287.3 L1301.99,282.52 L1303.12,277.75 L1304.25,273.03 L1305.39,268.41 L1306.52,263.95 L1307.66,259.69 L1308.79,255.68 L1309.92,251.96 L1311.06,248.58 L1312.19,245.58 L1313.33,242.97 L1314.46,240.8 L1315.59,239.09 L1316.73,237.85 L1317.86,237.1 L1319,236.85 L1320.13,237.12 L1321.26,237.91 L1322.39,239.21 L1323.52,241.01 L1324.65,243.29 L1325.78,246.02 L1326.92,249.18 L1328.05,252.71 L1329.18,256.59 L1330.31,260.76 L1331.44,265.18 L1332.57,269.8 L1333.7,274.55 L1334.84,279.4 L1335.97,284.27 L1337.1,289.11 L1338.23,293.86 L1339.36,298.48 L1340.49,302.9 L1341.62,307.07 L1342.76,310.95 L1343.89,314.48 L1345.02,317.64 L1346.15,320.37 L1347.28,322.65 L1348.41,324.45 L1349.55,325.76 L1350.68,326.54 L1351.81,326.81 L1352.95,326.53 L1354.1,325.69 L1355.24,324.3 L1356.39,322.37 L1357.53,319.94 L1358.68,317.02 L1359.83,313.66 L1360.97,309.89 L1362.12,305.76 L1363.26,301.3 L1364.41,296.59 L1365.55,291.67 L1366.7,286.59 L1367.84,281.43 L1368.99,276.23 L1370.13,271.07 L1371.28,266 L1372.42,261.07 L1373.57,256.36 L1374.71,251.91 L1375.86,247.77 L1377.01,244 L1378.15,240.64 L1379.3,237.72 L1380.44,235.29 L1381.59,233.37 L1382.73,231.98 L1383.88,231.14 L1385.02,230.86 L1386.18,231.2 L1387.34,232.2 L1388.5,233.87 L1389.66,236.16 L1390.82,239.05 L1391.98,242.48 L1393.14,246.41 L1394.3,250.77 L1395.46,255.49 L1396.62,260.5 L1397.78,265.72 L1398.94,271.06 L1400.1,276.45 L1401.26,281.8 L1402.41,287.02 L1403.57,292.02 L1404.73,296.75 L1405.89,301.1 L1407.05,305.03 L1408.21,308.47 L1409.37,311.35 L1410.53,313.65 L1411.69,315.31 L1412.85,316.32 L1414.01,316.66 L1415.15,316.56 L1416.29,316.28 L1417.43,315.8 L1418.56,315.15 L1419.7,314.32 L1420.84,313.32 L1421.98,312.16 L1423.12,310.85 L1424.26,309.41 L1425.4,307.84 L1426.53,306.17 L1427.67,304.41 L1428.81,302.58 L1429.95,300.69 L1431.09,298.77 L1432.23,296.82 L1433.37,294.88 L1434.5,292.95 L1435.64,291.06 L1436.78,289.23 L1437.92,287.47 L1439.06,285.8 L1440.2,284.24 L1441.34,282.8 L1442.47,281.49 L1443.61,280.33 L1444.75,279.33 L1445.89,278.5 L1447.03,277.84 L1448.17,277.37 L1449.31,277.08 L1455.01,276.99" fill="none" stroke="#ff7f10" stroke-width="2.6" stroke-linejoin="round"/>
<path d="M983.5,281.6 L984.72,281.66 L985.93,281.83 L987.15,282.06 L988.37,282.29 L989.59,282.46 L990.81,282.52 L991.97,282.49 L993.13,282.38 L994.29,282.2 L995.45,281.98 L996.61,281.73 L997.76,281.47 L998.92,281.22 L1000.08,281 L1001.24,280.82 L1002.4,280.71 L1003.56,280.68 L1004.78,280.72 L1006,280.86 L1007.22,281.08 L1008.44,281.35 L1009.66,281.67 L1010.88,281.99 L1012.1,282.31 L1013.32,282.59 L1014.54,282.8 L1015.76,282.94 L1016.98,282.98 L1018.11,282.94 L1019.25,282.83 L1020.39,282.64 L1021.52,282.39 L1022.66,282.09 L1023.79,281.77 L1024.93,281.43 L1026.06,281.11 L1027.2,280.81 L1028.33,280.56 L1029.47,280.37 L1030.61,280.26 L1031.74,280.22 L1032.93,280.27 L1034.12,280.43 L1035.3,280.68 L1036.49,281.01 L1037.68,281.41 L1038.86,281.84 L1040.05,282.28 L1041.24,282.72 L1042.43,283.11 L1043.61,283.44 L1044.8,283.7 L1045.99,283.85 L1047.17,283.91 L1048.34,283.84 L1049.5,283.65 L1050.66,283.33 L1051.83,282.91 L1052.99,282.41 L1054.15,281.83 L1055.32,281.22 L1056.48,280.59 L1057.64,279.98 L1058.8,279.41 L1059.97,278.9 L1061.13,278.48 L1062.29,278.17 L1063.46,277.98 L1064.62,277.91 L1065.79,278 L1066.97,278.26 L1068.14,278.68 L1069.32,279.26 L1070.49,279.97 L1071.67,280.79 L1072.84,281.7 L1074.01,282.67 L1075.19,283.68 L1076.36,284.68 L1077.54,285.65 L1078.71,286.56 L1079.89,287.38 L1081.06,288.09 L1082.23,288.67 L1083.41,289.09 L1084.58,289.35 L1085.76,289.44 L1086.91,289.34 L1088.06,289.04 L1089.21,288.54 L1090.37,287.86 L1091.52,287.01 L1092.67,286 L1093.82,284.85 L1094.98,283.59 L1096.13,282.23 L1097.28,280.81 L1098.43,279.34 L1099.58,277.86 L1100.74,276.4 L1101.89,274.97 L1103.04,273.61 L1104.19,272.35 L1105.35,271.2 L1106.5,270.19 L1107.65,269.34 L1108.8,268.66 L1109.96,268.16 L1111.11,267.86 L1112.26,267.76 L1113.39,267.85 L1114.53,268.13 L1115.66,268.58 L1116.8,269.21 L1117.93,270.01 L1119.06,270.96 L1120.2,272.06 L1121.33,273.29 L1122.46,274.64 L1123.6,276.1 L1124.73,277.64 L1125.87,279.25 L1127,280.91 L1128.13,282.6 L1129.27,284.29 L1130.4,285.98 L1131.53,287.64 L1132.67,289.25 L1133.8,290.79 L1134.94,292.25 L1136.07,293.6 L1137.2,294.83 L1138.34,295.93 L1139.47,296.88 L1140.6,297.68 L1141.74,298.31 L1142.87,298.76 L1144.01,299.04 L1145.14,299.13 L1146.29,299.04 L1147.43,298.79 L1148.58,298.37 L1149.73,297.78 L1150.88,297.04 L1152.02,296.15 L1153.17,295.12 L1154.32,293.96 L1155.46,292.69 L1156.61,291.31 L1157.76,289.84 L1158.91,288.29 L1160.05,286.69 L1161.2,285.04 L1162.35,283.36 L1163.5,281.68 L1164.64,280.01 L1165.79,278.36 L1166.94,276.75 L1168.08,275.21 L1169.23,273.74 L1170.38,272.36 L1171.53,271.08 L1172.67,269.92 L1173.82,268.89 L1174.97,268 L1176.11,267.26 L1177.26,266.68 L1178.41,266.26 L1179.56,266 L1180.7,265.92 L1181.86,266.01 L1183.02,266.27 L1184.17,266.71 L1185.33,267.32 L1186.49,268.09 L1187.64,269.02 L1188.8,270.09 L1189.96,271.28 L1191.12,272.6 L1192.27,274.01 L1193.43,275.5 L1194.59,277.07 L1195.74,278.68 L1196.9,280.31 L1198.06,281.96 L1199.21,283.6 L1200.37,285.21 L1201.53,286.77 L1202.68,288.27 L1203.84,289.68 L1205,290.99 L1206.15,292.19 L1207.31,293.26 L1208.47,294.18 L1209.63,294.95 L1210.78,295.56 L1211.94,296.01 L1213.1,296.27 L1214.25,296.36 L1215.39,296.28 L1216.52,296.02 L1217.65,295.6 L1218.79,295.02 L1219.92,294.28 L1221.06,293.4 L1222.19,292.38 L1223.32,291.24 L1224.46,289.99 L1225.59,288.64 L1226.72,287.21 L1227.86,285.72 L1228.99,284.18 L1230.13,282.62 L1231.26,281.04 L1232.39,279.48 L1233.53,277.94 L1234.66,276.45 L1235.79,275.02 L1236.93,273.68 L1238.06,272.42 L1239.2,271.28 L1240.33,270.26 L1241.46,269.38 L1242.6,268.64 L1243.73,268.06 L1244.86,267.64 L1246,267.38 L1247.13,267.3 L1248.27,267.38 L1249.41,267.63 L1250.55,268.04 L1251.69,268.62 L1252.84,269.34 L1253.98,270.21 L1255.12,271.21 L1256.26,272.34 L1257.4,273.57 L1258.54,274.91 L1259.68,276.33 L1260.82,277.82 L1261.96,279.36 L1263.1,280.93 L1264.24,282.52 L1265.38,284.11 L1266.52,285.69 L1267.66,287.23 L1268.81,288.71 L1269.95,290.13 L1271.09,291.47 L1272.23,292.71 L1273.37,293.84 L1274.51,294.84 L1275.65,295.71 L1276.79,296.43 L1277.93,297 L1279.07,297.41 L1280.21,297.66 L1281.35,297.75 L1282.49,297.65 L1283.62,297.38 L1284.75,296.94 L1285.89,296.32 L1287.02,295.53 L1288.16,294.59 L1289.29,293.51 L1290.42,292.3 L1291.56,290.96 L1292.69,289.53 L1293.82,288.01 L1294.96,286.43 L1296.09,284.79 L1297.23,283.13 L1298.36,281.46 L1299.49,279.79 L1300.63,278.16 L1301.76,276.57 L1302.89,275.05 L1304.03,273.62 L1305.16,272.29 L1306.3,271.07 L1307.43,269.99 L1308.56,269.05 L1309.7,268.27 L1310.83,267.65 L1311.96,267.2 L1313.1,266.93 L1314.23,266.84 L1315.37,266.92 L1316.51,267.18 L1317.65,267.59 L1318.79,268.17 L1319.94,268.91 L1321.08,269.79 L1322.22,270.81 L1323.36,271.95 L1324.5,273.21 L1325.64,274.57 L1326.78,276.01 L1327.92,277.52 L1329.06,279.08 L1330.2,280.68 L1331.34,282.29 L1332.48,283.91 L1333.62,285.5 L1334.76,287.07 L1335.91,288.58 L1337.05,290.02 L1338.19,291.38 L1339.33,292.63 L1340.47,293.78 L1341.61,294.79 L1342.75,295.68 L1343.89,296.41 L1345.03,296.99 L1346.17,297.41 L1347.31,297.66 L1348.45,297.75 L1349.59,297.65 L1350.73,297.38 L1351.88,296.92 L1353.02,296.29 L1354.16,295.49 L1355.3,294.53 L1356.44,293.42 L1357.58,292.17 L1358.72,290.8 L1359.86,289.33 L1361,287.76 L1362.14,286.11 L1363.28,284.41 L1364.42,282.67 L1365.56,280.91 L1366.7,279.15 L1367.84,277.41 L1368.99,275.7 L1370.13,274.06 L1371.27,272.49 L1372.41,271.01 L1373.55,269.64 L1374.69,268.4 L1375.83,267.29 L1376.97,266.33 L1378.11,265.53 L1379.25,264.89 L1380.39,264.44 L1381.53,264.16 L1382.67,264.07 L1383.81,264.18 L1384.95,264.51 L1386.08,265.06 L1387.22,265.81 L1388.35,266.77 L1389.49,267.9 L1390.62,269.2 L1391.76,270.65 L1392.89,272.22 L1394.03,273.9 L1395.16,275.65 L1396.3,277.46 L1397.44,279.29 L1398.57,281.13 L1399.71,282.94 L1400.84,284.69 L1401.98,286.37 L1403.11,287.94 L1404.25,289.39 L1405.38,290.69 L1406.52,291.82 L1407.66,292.77 L1408.79,293.53 L1409.93,294.07 L1411.06,294.41 L1412.2,294.52 L1413.32,294.48 L1414.45,294.36 L1415.57,294.16 L1416.7,293.88 L1417.83,293.53 L1418.95,293.11 L1420.08,292.62 L1421.2,292.08 L1422.33,291.47 L1423.45,290.82 L1424.58,290.13 L1425.7,289.4 L1426.83,288.64 L1427.96,287.86 L1429.08,287.07 L1430.21,286.28 L1431.33,285.49 L1432.46,284.71 L1433.58,283.95 L1434.71,283.22 L1435.83,282.53 L1436.96,281.87 L1438.09,281.27 L1439.21,280.72 L1440.34,280.24 L1441.46,279.82 L1442.59,279.47 L1443.71,279.19 L1444.84,278.99 L1445.96,278.87 L1455.01,278.83" fill="none" stroke="#ff10ff" stroke-width="2.6" stroke-linejoin="round"/>
<path d="M983.7,281.6 L984.83,281.6 L985.96,281.6 L987.09,281.6 L988.22,281.6 L989.36,281.6 L990.49,281.6 L991.62,281.6 L992.75,281.6 L993.88,281.6 L995.01,281.6 L996.15,281.6 L997.28,281.6 L998.41,281.6 L999.54,281.6 L1000.67,281.6 L1001.81,281.6 L1002.94,281.6 L1004.07,281.6 L1005.2,281.6 L1006.33,281.6 L1007.46,281.6 L1008.6,281.6 L1009.73,281.6 L1010.86,281.6 L1011.99,281.6 L1013.12,281.6 L1014.25,281.6 L1015.39,281.6 L1016.52,281.6 L1017.65,281.6 L1018.77,281.6 L1019.89,281.6 L1021,281.6 L1022.12,281.6 L1023.24,281.6 L1024.36,281.6 L1025.48,281.6 L1026.6,281.6 L1027.71,281.6 L1028.83,281.6 L1029.95,281.6 L1031.07,281.6 L1032.19,281.6 L1033.31,281.6 L1034.42,281.6 L1035.54,281.6 L1036.66,281.6 L1037.78,281.6 L1038.9,281.6 L1040.02,281.6 L1041.13,281.6 L1042.25,281.6 L1043.37,281.6 L1044.49,281.6 L1045.61,281.6 L1046.73,281.6 L1047.85,281.6 L1048.96,281.6 L1050.08,281.6 L1051.2,281.6 L1052.37,281.6 L1053.53,281.59 L1054.7,281.58 L1055.87,281.57 L1057.03,281.55 L1058.2,281.53 L1059.37,281.5 L1060.54,281.48 L1061.7,281.45 L1062.87,281.42 L1064.04,281.39 L1065.2,281.35 L1066.37,281.32 L1067.54,281.29 L1068.7,281.26 L1069.87,281.24 L1071.04,281.21 L1072.21,281.19 L1073.37,281.17 L1074.54,281.16 L1075.71,281.15 L1076.87,281.14 L1078.04,281.14 L1079.16,281.16 L1080.28,281.21 L1081.39,281.29 L1082.51,281.41 L1083.63,281.55 L1084.75,281.72 L1085.87,281.9 L1086.99,282.09 L1088.11,282.29 L1089.22,282.49 L1090.34,282.69 L1091.46,282.87 L1092.58,283.03 L1093.7,283.18 L1094.82,283.29 L1095.93,283.38 L1097.05,283.43 L1098.17,283.45 L1099.43,283.29 L1100.69,282.84 L1101.94,282.16 L1103.2,281.37 L1104.46,280.57 L1105.72,279.9 L1106.98,279.45 L1108.23,279.29 L1109.4,279.31 L1110.56,279.36 L1111.72,279.44 L1112.88,279.56 L1114.04,279.7 L1115.2,279.87 L1116.36,280.07 L1117.53,280.29 L1118.69,280.53 L1119.85,280.78 L1121.01,281.05 L1122.17,281.32 L1123.33,281.6 L1124.49,281.88 L1125.66,282.15 L1126.82,282.42 L1127.98,282.67 L1129.14,282.91 L1130.3,283.13 L1131.46,283.33 L1132.62,283.5 L1133.78,283.64 L1134.95,283.76 L1136.11,283.84 L1137.27,283.89 L1138.43,283.91 L1139.56,283.89 L1140.69,283.85 L1141.83,283.79 L1142.96,283.7 L1144.09,283.58 L1145.22,283.44 L1146.36,283.28 L1147.49,283.1 L1148.62,282.89 L1149.75,282.68 L1150.89,282.44 L1152.02,282.2 L1153.15,281.94 L1154.28,281.68 L1155.41,281.41 L1156.55,281.14 L1157.68,280.87 L1158.81,280.6 L1159.94,280.34 L1161.08,280.08 L1162.21,279.83 L1163.34,279.6 L1164.47,279.38 L1165.61,279.18 L1166.74,279 L1167.87,278.84 L1169,278.7 L1170.13,278.58 L1171.27,278.49 L1172.4,278.42 L1173.53,278.38 L1174.66,278.37 L1175.8,278.39 L1176.95,278.43 L1178.09,278.51 L1179.23,278.61 L1180.37,278.74 L1181.51,278.9 L1182.65,279.08 L1183.79,279.29 L1184.93,279.51 L1186.07,279.75 L1187.21,280.01 L1188.35,280.28 L1189.49,280.56 L1190.63,280.85 L1191.77,281.14 L1192.92,281.43 L1194.06,281.71 L1195.2,281.99 L1196.34,282.26 L1197.48,282.52 L1198.62,282.77 L1199.76,282.99 L1200.9,283.2 L1202.04,283.38 L1203.18,283.54 L1204.32,283.67 L1205.46,283.77 L1206.6,283.85 L1207.74,283.89 L1208.88,283.91 L1210,283.9 L1211.12,283.86 L1212.24,283.8 L1213.36,283.72 L1214.48,283.62 L1215.6,283.5 L1216.71,283.36 L1217.83,283.21 L1218.95,283.03 L1220.07,282.84 L1221.19,282.64 L1222.3,282.42 L1223.42,282.2 L1224.54,281.97 L1225.66,281.73 L1226.78,281.49 L1227.9,281.25 L1229.01,281.01 L1230.13,280.77 L1231.25,280.54 L1232.37,280.32 L1233.49,280.1 L1234.61,279.9 L1235.72,279.71 L1236.84,279.53 L1237.96,279.38 L1239.08,279.23 L1240.2,279.11 L1241.32,279.01 L1242.43,278.93 L1243.55,278.88 L1244.67,278.84 L1245.79,278.83 L1246.95,278.85 L1248.11,278.91 L1249.27,279 L1250.44,279.12 L1251.6,279.28 L1252.76,279.47 L1253.92,279.69 L1255.08,279.93 L1256.24,280.19 L1257.4,280.47 L1258.56,280.76 L1259.73,281.06 L1260.89,281.37 L1262.05,281.68 L1263.21,281.98 L1264.37,282.27 L1265.53,282.55 L1266.69,282.81 L1267.86,283.05 L1269.02,283.27 L1270.18,283.46 L1271.34,283.62 L1272.5,283.74 L1273.66,283.83 L1274.82,283.89 L1275.98,283.91 L1277.1,283.9 L1278.22,283.86 L1279.34,283.81 L1280.46,283.74 L1281.58,283.65 L1282.69,283.54 L1283.81,283.41 L1284.93,283.27 L1286.05,283.11 L1287.17,282.94 L1288.29,282.75 L1289.4,282.56 L1290.52,282.35 L1291.64,282.14 L1292.76,281.93 L1293.88,281.71 L1295,281.49 L1296.12,281.27 L1297.23,281.06 L1298.35,280.85 L1299.47,280.64 L1300.59,280.45 L1301.71,280.26 L1302.83,280.09 L1303.94,279.93 L1305.06,279.79 L1306.18,279.66 L1307.3,279.55 L1308.42,279.46 L1309.54,279.39 L1310.65,279.34 L1311.77,279.3 L1312.89,279.29 L1314.01,279.31 L1315.13,279.34 L1316.24,279.41 L1317.36,279.49 L1318.48,279.6 L1319.6,279.73 L1320.72,279.89 L1321.84,280.06 L1322.95,280.24 L1324.07,280.45 L1325.19,280.66 L1326.31,280.89 L1327.43,281.12 L1328.55,281.36 L1329.66,281.6 L1330.78,281.84 L1331.9,282.08 L1333.02,282.31 L1334.14,282.54 L1335.26,282.75 L1336.38,282.96 L1337.49,283.14 L1338.61,283.31 L1339.73,283.47 L1340.85,283.6 L1341.97,283.71 L1343.09,283.79 L1344.2,283.86 L1345.32,283.89 L1346.44,283.91 L1347.56,283.89 L1348.68,283.85 L1349.8,283.78 L1350.91,283.69 L1352.03,283.57 L1353.15,283.42 L1354.27,283.25 L1355.39,283.07 L1356.51,282.86 L1357.62,282.64 L1358.74,282.4 L1359.86,282.15 L1360.98,281.9 L1362.1,281.63 L1363.21,281.37 L1364.33,281.1 L1365.45,280.84 L1366.57,280.59 L1367.69,280.34 L1368.81,280.1 L1369.92,279.88 L1371.04,279.67 L1372.16,279.48 L1373.28,279.32 L1374.4,279.17 L1375.52,279.05 L1376.63,278.96 L1377.75,278.89 L1378.87,278.85 L1379.99,278.83 L1381.15,278.85 L1382.31,278.91 L1383.47,279 L1384.64,279.12 L1385.8,279.28 L1386.96,279.47 L1388.12,279.69 L1389.28,279.93 L1390.44,280.19 L1391.6,280.47 L1392.76,280.76 L1393.93,281.06 L1395.09,281.37 L1396.25,281.68 L1397.41,281.98 L1398.57,282.27 L1399.73,282.55 L1400.89,282.81 L1402.06,283.05 L1403.22,283.27 L1404.38,283.46 L1405.54,283.62 L1406.7,283.74 L1407.86,283.83 L1409.02,283.89 L1410.18,283.91 L1411.3,283.9 L1412.42,283.86 L1413.54,283.81 L1414.66,283.73 L1415.78,283.64 L1416.89,283.53 L1418.01,283.4 L1419.13,283.26 L1420.25,283.1 L1421.37,282.93 L1422.49,282.76 L1423.61,282.57 L1424.72,282.39 L1425.84,282.2 L1426.96,282.01 L1428.08,281.83 L1429.2,281.65 L1430.32,281.48 L1431.43,281.33 L1432.55,281.18 L1433.67,281.06 L1434.79,280.94 L1435.91,280.85 L1437.03,280.77 L1438.14,280.72 L1439.26,280.69 L1440.38,280.68 L1441.51,280.69 L1442.63,280.73 L1443.76,280.79 L1444.88,280.88 L1446.01,280.98 L1447.13,281.08 L1448.26,281.19 L1449.38,281.3 L1450.51,281.4 L1451.63,281.48 L1452.76,281.55 L1453.88,281.59 L1455.01,281.6 L1455.01,281.6 L1455.01,281.6 L1455.01,281.6 L1455.01,281.6 L1455.01,281.6 L1455.01,281.6" fill="none" stroke="#000" stroke-width="2.6" stroke-linejoin="round"/>
<path d="M893,98H976" stroke="#ff0000" stroke-width="2.6" stroke-linecap="round"/>
<text x="990" y="108" text-anchor="start" font-family='"Liberation Sans", sans-serif' font-size="29.1" transform="matrix(1 0 0 1.045 0 -4.86)">0 mm</text>
<path d="M893,138.4H976" stroke="#1010f0" stroke-width="2.6" stroke-linecap="round"/>
<text x="990" y="148.4" text-anchor="start" font-family='"Liberation Sans", sans-serif' font-size="29.1" transform="matrix(1 0 0 1.045 0 -6.68)">0.5 mm</text>
<path d="M893,178.7H976" stroke="#18c888" stroke-width="2.6" stroke-linecap="round"/>
<text x="990" y="188.7" text-anchor="start" font-family='"Liberation Sans", sans-serif' font-size="29.1" transform="matrix(1 0 0 1.045 0 -8.49)">1.0 mm</text>
<path d="M893,381.8H976" stroke="#ff7f10" stroke-width="2.6" stroke-linecap="round"/>
<text x="990" y="391.8" text-anchor="start" font-family='"Liberation Sans", sans-serif' font-size="29.1" transform="matrix(1 0 0 1.045 0 -17.63)">1.5 mm</text>
<path d="M893,422.3H976" stroke="#ff10ff" stroke-width="2.6" stroke-linecap="round"/>
<text x="990" y="432.3" text-anchor="start" font-family='"Liberation Sans", sans-serif' font-size="29.1" transform="matrix(1 0 0 1.045 0 -19.45)">2.0 mm</text>
<path d="M893,462.6H976" stroke="#000" stroke-width="2.6" stroke-linecap="round"/>
<text x="990" y="472.6" text-anchor="start" font-family='"Liberation Sans", sans-serif' font-size="29.1" transform="matrix(1 0 0 1.045 0 -21.27)">2.5 mm</text>
<rect x="102.8" y="649.7" width="599.2" height="449.5" fill="none" stroke="#000" stroke-width="2.0" stroke-linejoin="round"/>
<path d="M152.4,1099.2v-9 M152.4,649.7v9 M252.4,1099.2v-9 M252.4,649.7v9 M352.4,1099.2v-9 M352.4,649.7v9 M452.4,1099.2v-9 M452.4,649.7v9 M552.4,1099.2v-9 M552.4,649.7v9 M652.4,1099.2v-9 M652.4,649.7v9 M202.4,1099.2v-4.5 M202.4,649.7v4.5 M302.4,1099.2v-4.5 M302.4,649.7v4.5 M402.4,1099.2v-4.5 M402.4,649.7v4.5 M502.4,1099.2v-4.5 M502.4,649.7v4.5 M602.4,1099.2v-4.5 M602.4,649.7v4.5 M102.8,1062h9 M702,1062h-9 M102.8,986.9h9 M702,986.9h-9 M102.8,911.8h9 M702,911.8h-9 M102.8,836.7h9 M702,836.7h-9 M102.8,761.6h9 M702,761.6h-9 M102.8,686.5h9 M702,686.5h-9 M102.8,1024.45h4.5 M702,1024.45h-4.5 M102.8,949.35h4.5 M702,949.35h-4.5 M102.8,874.25h4.5 M702,874.25h-4.5 M102.8,799.15h4.5 M702,799.15h-4.5 M102.8,724.05h4.5 M702,724.05h-4.5" stroke="#000" stroke-width="2.0" fill="none" stroke-linecap="round"/>
<text x="152.4" y="1132.6" text-anchor="middle" font-family='"Liberation Sans", sans-serif' font-size="29.1" transform="matrix(1 0 0 1.045 0 -50.97)">0.0</text>
<text x="252.4" y="1132.6" text-anchor="middle" font-family='"Liberation Sans", sans-serif' font-size="29.1" transform="matrix(1 0 0 1.045 0 -50.97)">0.5</text>
<text x="352.4" y="1132.6" text-anchor="middle" font-family='"Liberation Sans", sans-serif' font-size="29.1" transform="matrix(1 0 0 1.045 0 -50.97)">1.0</text>
<text x="452.4" y="1132.6" text-anchor="middle" font-family='"Liberation Sans", sans-serif' font-size="29.1" transform="matrix(1 0 0 1.045 0 -50.97)">1.5</text>
<text x="552.4" y="1132.6" text-anchor="middle" font-family='"Liberation Sans", sans-serif' font-size="29.1" transform="matrix(1 0 0 1.045 0 -50.97)">2.0</text>
<text x="652.4" y="1132.6" text-anchor="middle" font-family='"Liberation Sans", sans-serif' font-size="29.1" transform="matrix(1 0 0 1.045 0 -50.97)">2.5</text>
<text x="89" y="1072" text-anchor="end" font-family='"Liberation Sans", sans-serif' font-size="29.1" transform="matrix(1 0 0 1.045 0 -48.24)">0.0</text>
<text x="89" y="996.9" text-anchor="end" font-family='"Liberation Sans", sans-serif' font-size="29.1" transform="matrix(1 0 0 1.045 0 -44.86)">0.2</text>
<text x="89" y="921.8" text-anchor="end" font-family='"Liberation Sans", sans-serif' font-size="29.1" transform="matrix(1 0 0 1.045 0 -41.48)">0.4</text>
<text x="89" y="846.7" text-anchor="end" font-family='"Liberation Sans", sans-serif' font-size="29.1" transform="matrix(1 0 0 1.045 0 -38.1)">0.6</text>
<text x="89" y="771.6" text-anchor="end" font-family='"Liberation Sans", sans-serif' font-size="29.1" transform="matrix(1 0 0 1.045 0 -34.72)">0.8</text>
<text x="89" y="696.5" text-anchor="end" font-family='"Liberation Sans", sans-serif' font-size="29.1" transform="matrix(1 0 0 1.045 0 -31.34)">1.0</text>
<text x="357" y="1181.3" font-family='"Liberation Sans", sans-serif' font-size="29.1" transform="matrix(1 0 0 1.045 0 -53.16)"><tspan font-style="italic">R</tspan> (mm)</text>
<g transform="translate(15,893) rotate(-90)"><text x="0" y="0" font-family='"Liberation Serif", serif' font-size="28" font-style="italic">α</text><text x="13.5" y="8" font-family='"Liberation Sans", sans-serif' font-size="20">ΔV</text></g>
<rect x="145.7" y="1055.3" width="13.4" height="13.4" fill="#ff0000"/>
<rect x="245.7" y="999.35" width="13.4" height="13.4" fill="#ff0000"/>
<rect x="345.7" y="886.7" width="13.4" height="13.4" fill="#ff0000"/>
<rect x="445.7" y="778.56" width="13.4" height="13.4" fill="#ff0000"/>
<rect x="545.7" y="714.35" width="13.4" height="13.4" fill="#ff0000"/>
<rect x="645.7" y="688.44" width="13.4" height="13.4" fill="#ff0000"/>
<rect x="148.4" y="1058" width="8" height="8" fill="#000"/>
<path d="M152.4,1062.05 L156.52,1061.03 L160.64,1059.86 L164.75,1058.56 L168.87,1057.12 L172.99,1055.55 L177.11,1053.84 L181.22,1052.01 L185.34,1050.06 L189.46,1047.98 L193.58,1045.79 L197.69,1043.48 L201.81,1041.06 L205.93,1038.53 L210.05,1035.9 L214.16,1033.16 L218.28,1030.31 L222.4,1027.38 L226.52,1024.34 L230.64,1021.22 L234.75,1018.01 L238.87,1014.71 L242.99,1011.32 L247.11,1007.86 L251.22,1004.32 L255.34,1000.71 L259.46,997.02 L263.58,993.27 L267.69,989.45 L271.81,985.57 L275.93,981.63 L280.05,977.64 L284.16,973.59 L288.28,969.49 L292.4,965.34 L296.52,961.15 L300.64,956.91 L304.75,952.64 L308.87,948.33 L312.99,943.99 L317.11,939.62 L321.22,935.22 L325.34,930.79 L329.46,926.35 L333.58,921.89 L337.69,917.41 L341.81,912.92 L345.93,908.42 L350.05,903.91 L354.16,899.41 L358.28,894.89 L362.4,890.39 L366.52,885.88 L370.64,881.39 L374.75,876.91 L378.87,872.44 L382.99,867.99 L387.11,863.55 L391.22,859.15 L395.34,854.76 L399.46,850.41 L403.58,846.08 L407.69,841.8 L411.81,837.54 L415.93,833.33 L420.05,829.15 L424.16,825.01 L428.28,820.91 L432.4,816.85 L436.52,812.83 L440.64,808.85 L444.75,804.92 L448.87,801.04 L452.99,797.2 L457.11,793.41 L461.22,789.67 L465.34,785.98 L469.46,782.34 L473.58,778.76 L477.69,775.22 L481.81,771.74 L485.93,768.32 L490.05,764.95 L494.16,761.65 L498.28,758.4 L502.4,755.21 L506.52,752.08 L510.64,749.02 L514.75,746.02 L518.87,743.08 L522.99,740.21 L527.11,737.41 L531.22,734.68 L535.34,732.01 L539.46,729.42 L543.58,726.9 L547.69,724.45 L551.81,722.07 L555.93,719.77 L560.05,717.55 L564.16,715.4 L568.28,713.33 L572.4,711.35 L576.52,709.44 L580.64,707.61 L584.75,705.87 L588.87,704.22 L592.99,702.64 L597.11,701.16 L601.22,699.76 L605.34,698.45 L609.46,697.23 L613.58,696.1 L617.69,695.07 L621.81,694.12 L625.93,693.28 L630.05,692.52 L634.16,691.87 L638.28,691.31 L642.4,690.85" fill="none" stroke="#000" stroke-width="3.2" stroke-dasharray="11 9"/>
<path d="M152.4,1061.93 L156.6,1060.56 L160.8,1059.05 L165.01,1057.41 L169.21,1055.63 L173.41,1053.73 L177.61,1051.7 L181.81,1049.54 L186.01,1047.27 L190.22,1044.87 L194.42,1042.37 L198.62,1039.75 L202.82,1037.02 L207.02,1034.19 L211.22,1031.26 L215.43,1028.22 L219.63,1025.1 L223.83,1021.87 L228.03,1018.56 L232.23,1015.17 L236.43,1011.69 L240.64,1008.12 L244.84,1004.48 L249.04,1000.77 L253.24,996.99 L257.44,993.13 L261.64,989.21 L265.85,985.23 L270.05,981.19 L274.25,977.1 L278.45,972.95 L282.65,968.75 L286.85,964.5 L291.06,960.21 L295.26,955.88 L299.46,951.51 L303.66,947.11 L307.86,942.67 L312.06,938.21 L316.27,933.72 L320.47,929.21 L324.67,924.68 L328.87,920.13 L333.07,915.58 L337.27,911.01 L341.48,906.43 L345.68,901.86 L349.88,897.28 L354.08,892.71 L358.28,888.15 L362.48,883.6 L366.69,879.06 L370.89,874.54 L375.09,870.04 L379.29,865.57 L383.49,861.12 L387.69,856.71 L391.9,852.32 L396.1,847.98 L400.3,843.68 L404.5,839.42 L408.7,835.22 L412.9,831.05 L417.11,826.94 L421.31,822.87 L425.51,818.86 L429.71,814.89 L433.91,810.98 L438.11,807.12 L442.32,803.31 L446.52,799.55 L450.72,795.85 L454.92,792.2 L459.12,788.6 L463.32,785.07 L467.53,781.59 L471.73,778.16 L475.93,774.8 L480.13,771.49 L484.33,768.24 L488.53,765.06 L492.74,761.93 L496.94,758.87 L501.14,755.87 L505.34,752.93 L509.54,750.05 L513.74,747.24 L517.95,744.5 L522.15,741.82 L526.35,739.2 L530.55,736.66 L534.75,734.18 L538.95,731.77 L543.16,729.43 L547.36,727.17 L551.56,724.97 L555.76,722.84 L559.96,720.79 L564.16,718.81 L568.37,716.9 L572.57,715.07 L576.77,713.31 L580.97,711.63 L585.17,710.02 L589.37,708.49 L593.58,707.04 L597.78,705.67 L601.98,704.38 L606.18,703.17 L610.38,702.03 L614.58,700.98 L618.79,700.02 L622.99,699.13 L627.19,698.33 L631.39,697.62 L635.59,696.98 L639.79,696.44 L644,695.98 L648.2,695.61 L652.4,695.32" fill="none" stroke="#ff0000" stroke-width="3"/>
<rect x="156.2" y="689" width="9.6" height="9.6" fill="#ff0000"/>
<text x="211.3" y="706" text-anchor="start" font-family='"Liberation Sans", sans-serif' font-size="29.1" transform="matrix(1 0 0 1.045 0 -31.77)">FEM</text>
<path d="M124.7,735.9H199.5" stroke="#ff0000" stroke-width="3"/>
<text x="212.8" y="748.5" text-anchor="start" font-family='"Liberation Sans", sans-serif' font-size="29.1" transform="matrix(1 0 0 1.045 0 -33.68)">Fitting</text>
<path d="M124.7,777.4H199.5" stroke="#000" stroke-width="3" stroke-dasharray="11 11"/>
<text x="212.8" y="790.5" text-anchor="start" font-family='"Liberation Sans", sans-serif' font-size="29.1" transform="matrix(1 0 0 1.045 0 -35.57)">Theory</text>
<text y="965.8" font-family='"Liberation Sans", sans-serif' font-size="29.1" transform="matrix(1 0 0 1.045 0 -43.46)"><tspan x="351" y="965.8" font-family='"Liberation Serif", serif' font-style="italic" font-size="28">α</tspan><tspan x="364" y="973.3" font-size="20">ΔV</tspan><tspan x="389" y="965.8">=0.06</tspan><tspan x="467" y="965.8" font-style="italic">R</tspan><tspan x="488" y="958" font-size="20">4</tspan><tspan x="500" y="965.8">–0.417</tspan><tspan x="592.5" y="965.8" font-style="italic">R</tspan><tspan x="614" y="958" font-size="20">3</tspan></text>
<text y="1017.6" font-family='"Liberation Sans", sans-serif' font-size="29.1" transform="matrix(1 0 0 1.045 0 -45.79)"><tspan x="350" y="1017.6">+0.834</tspan><tspan x="441.5" y="1017.6" font-style="italic">R</tspan><tspan x="463" y="1010" font-size="20">2</tspan><tspan x="475" y="1017.6">–0.024</tspan><tspan x="566.5" y="1017.6" font-style="italic">R</tspan></text>
<text x="350" y="1058.8" text-anchor="start" font-family='"Liberation Sans", sans-serif' font-size="29.1" transform="matrix(1 0 0 1.045 0 -47.65)">+0.00318</text>
<rect x="883" y="647.5" width="605.6" height="454" fill="none" stroke="#000" stroke-width="2.0" stroke-linejoin="round"/>
<path d="M882.5,1101.5v-9 M882.5,647.5v9 M975.8,1101.5v-9 M975.8,647.5v9 M1069.1,1101.5v-9 M1069.1,647.5v9 M1162.4,1101.5v-9 M1162.4,647.5v9 M1255.7,1101.5v-9 M1255.7,647.5v9 M1349,1101.5v-9 M1349,647.5v9 M1442.3,1101.5v-9 M1442.3,647.5v9 M929.15,1101.5v-4.5 M929.15,647.5v4.5 M1022.45,1101.5v-4.5 M1022.45,647.5v4.5 M1115.75,1101.5v-4.5 M1115.75,647.5v4.5 M1209.05,1101.5v-4.5 M1209.05,647.5v4.5 M1302.35,1101.5v-4.5 M1302.35,647.5v4.5 M1395.65,1101.5v-4.5 M1395.65,647.5v4.5 M883,1063.9h9 M1488.6,1063.9h-9 M883,988.32h9 M1488.6,988.32h-9 M883,912.74h9 M1488.6,912.74h-9 M883,837.16h9 M1488.6,837.16h-9 M883,761.58h9 M1488.6,761.58h-9 M883,686h9 M1488.6,686h-9 M883,1026.11h4.5 M1488.6,1026.11h-4.5 M883,950.53h4.5 M1488.6,950.53h-4.5 M883,874.95h4.5 M1488.6,874.95h-4.5 M883,799.37h4.5 M1488.6,799.37h-4.5 M883,723.79h4.5 M1488.6,723.79h-4.5" stroke="#000" stroke-width="2.0" fill="none" stroke-linecap="round"/>
<text x="882.5" y="1135" text-anchor="middle" font-family='"Liberation Sans", sans-serif' font-size="29.1" transform="matrix(1 0 0 1.045 0 -51.07)">–0.5</text>
<text x="975.8" y="1135" text-anchor="middle" font-family='"Liberation Sans", sans-serif' font-size="29.1" transform="matrix(1 0 0 1.045 0 -51.07)">0.0</text>
<text x="1069.1" y="1135" text-anchor="middle" font-family='"Liberation Sans", sans-serif' font-size="29.1" transform="matrix(1 0 0 1.045 0 -51.07)">0.5</text>
<text x="1162.4" y="1135" text-anchor="middle" font-family='"Liberation Sans", sans-serif' font-size="29.1" transform="matrix(1 0 0 1.045 0 -51.07)">1.0</text>
<text x="1255.7" y="1135" text-anchor="middle" font-family='"Liberation Sans", sans-serif' font-size="29.1" transform="matrix(1 0 0 1.045 0 -51.07)">1.5</text>
<text x="1349" y="1135" text-anchor="middle" font-family='"Liberation Sans", sans-serif' font-size="29.1" transform="matrix(1 0 0 1.045 0 -51.07)">2.0</text>
<text x="1442.3" y="1135" text-anchor="middle" font-family='"Liberation Sans", sans-serif' font-size="29.1" transform="matrix(1 0 0 1.045 0 -51.07)">2.5</text>
<text x="869" y="1073.9" text-anchor="end" font-family='"Liberation Sans", sans-serif' font-size="29.1" transform="matrix(1 0 0 1.045 0 -48.33)">0.0</text>
<text x="869" y="998.32" text-anchor="end" font-family='"Liberation Sans", sans-serif' font-size="29.1" transform="matrix(1 0 0 1.045 0 -44.92)">0.2</text>
<text x="869" y="922.74" text-anchor="end" font-family='"Liberation Sans", sans-serif' font-size="29.1" transform="matrix(1 0 0 1.045 0 -41.52)">0.4</text>
<text x="869" y="847.16" text-anchor="end" font-family='"Liberation Sans", sans-serif' font-size="29.1" transform="matrix(1 0 0 1.045 0 -38.12)">0.6</text>
<text x="869" y="771.58" text-anchor="end" font-family='"Liberation Sans", sans-serif' font-size="29.1" transform="matrix(1 0 0 1.045 0 -34.72)">0.8</text>
<text x="869" y="696" text-anchor="end" font-family='"Liberation Sans", sans-serif' font-size="29.1" transform="matrix(1 0 0 1.045 0 -31.32)">1.0</text>
<text x="1139" y="1181.3" font-family='"Liberation Sans", sans-serif' font-size="29.1" transform="matrix(1 0 0 1.045 0 -53.16)"><tspan font-style="italic">R</tspan> (mm)</text>
<g transform="translate(795,894) rotate(-90)"><text x="0" y="0" font-family='"Liberation Serif", serif' font-size="28" font-style="italic">α</text><text x="13.5" y="8" font-family='"Liberation Sans", sans-serif' font-size="20">ΔV</text></g>
<path d="M975.8,1063.89 L979.16,1062.65 L982.51,1061.32 L985.87,1059.9 L989.22,1058.39 L992.58,1056.8 L995.94,1055.12 L999.29,1053.35 L1002.65,1051.5 L1006.01,1049.57 L1009.36,1047.56 L1012.72,1045.48 L1016.07,1043.32 L1019.43,1041.08 L1022.79,1038.77 L1026.14,1036.39 L1029.5,1033.95 L1032.85,1031.43 L1036.21,1028.85 L1039.57,1026.21 L1042.92,1023.51 L1046.28,1020.74 L1049.63,1017.92 L1052.99,1015.04 L1056.35,1012.1 L1059.7,1009.11 L1063.06,1006.07 L1066.42,1002.98 L1069.77,999.84 L1073.13,996.66 L1076.48,993.43 L1079.84,990.15 L1083.2,986.84 L1086.55,983.48 L1089.91,980.09 L1093.26,976.66 L1096.62,973.2 L1099.98,969.7 L1103.33,966.18 L1106.69,962.62 L1110.04,959.03 L1113.4,955.42 L1116.76,951.79 L1120.11,948.13 L1123.47,944.45 L1126.83,940.76 L1130.18,937.04 L1133.54,933.31 L1136.89,929.57 L1140.25,925.81 L1143.61,922.04 L1146.96,918.26 L1150.32,914.48 L1153.67,910.69 L1157.03,906.9 L1160.39,903.1 L1163.74,899.31 L1167.1,895.51 L1170.45,891.72 L1173.81,887.93 L1177.17,884.15 L1180.52,880.38 L1183.88,876.62 L1187.24,872.87 L1190.59,869.13 L1193.95,865.41 L1197.3,861.7 L1200.66,858.02 L1204.02,854.35 L1207.37,850.71 L1210.73,847.08 L1214.08,843.49 L1217.44,839.92 L1220.8,836.37 L1224.15,832.86 L1227.51,829.37 L1230.86,825.91 L1234.22,822.48 L1237.58,819.08 L1240.93,815.71 L1244.29,812.38 L1247.65,809.08 L1251,805.82 L1254.36,802.59 L1257.71,799.39 L1261.07,796.24 L1264.43,793.12 L1267.78,790.04 L1271.14,787 L1274.49,784 L1277.85,781.04 L1281.21,778.12 L1284.56,775.25 L1287.92,772.42 L1291.27,769.64 L1294.63,766.9 L1297.99,764.21 L1301.34,761.57 L1304.7,758.97 L1308.06,756.43 L1311.41,753.93 L1314.77,751.49 L1318.12,749.1 L1321.48,746.76 L1324.84,744.47 L1328.19,742.24 L1331.55,740.07 L1334.9,737.95 L1338.26,735.89 L1341.62,733.88 L1344.97,731.94 L1348.33,730.06 L1351.68,728.23 L1355.04,726.47 L1358.4,724.76 L1361.75,723.11 L1365.11,721.51 L1368.47,719.97 L1371.82,718.47 L1375.18,717.02 L1378.53,715.62 L1381.89,714.27 L1385.25,712.96 L1388.6,711.69 L1391.96,710.46 L1395.31,709.26 L1398.67,708.1 L1402.03,706.98 L1405.38,705.89 L1408.74,704.83 L1412.09,703.79 L1415.45,702.79 L1418.81,701.8 L1422.16,700.84 L1425.52,699.91 L1428.88,698.99 L1432.23,698.09 L1435.59,697.2 L1438.94,696.33 L1442.3,695.47" fill="none" stroke="#ff0000" stroke-width="2.6"/>
<rect x="970.3" y="1060.29" width="11" height="11" fill="#ff0000"/>
<rect x="1063.6" y="1007.01" width="11" height="11" fill="#ff0000"/>
<rect x="1156.9" y="901.57" width="11" height="11" fill="#ff0000"/>
<rect x="1250.2" y="793.87" width="11" height="11" fill="#ff0000"/>
<rect x="1343.5" y="716.4" width="11" height="11" fill="#ff0000"/>
<rect x="1436.8" y="689.95" width="11" height="11" fill="#ff0000"/>
<path d="M975.8,1063.88 L979.16,1062.57 L982.51,1061.17 L985.87,1059.68 L989.22,1058.11 L992.58,1056.44 L995.94,1054.7 L999.29,1052.87 L1002.65,1050.95 L1006.01,1048.96 L1009.36,1046.9 L1012.72,1044.75 L1016.07,1042.53 L1019.43,1040.24 L1022.79,1037.88 L1026.14,1035.44 L1029.5,1032.94 L1032.85,1030.38 L1036.21,1027.75 L1039.57,1025.06 L1042.92,1022.3 L1046.28,1019.49 L1049.63,1016.62 L1052.99,1013.7 L1056.35,1010.72 L1059.7,1007.69 L1063.06,1004.61 L1066.42,1001.47 L1069.77,998.3 L1073.13,995.07 L1076.48,991.81 L1079.84,988.5 L1083.2,985.15 L1086.55,981.76 L1089.91,978.34 L1093.26,974.88 L1096.62,971.38 L1099.98,967.86 L1103.33,964.3 L1106.69,960.72 L1110.04,957.11 L1113.4,953.48 L1116.76,949.82 L1120.11,946.14 L1123.47,942.44 L1126.83,938.72 L1130.18,934.99 L1133.54,931.24 L1136.89,927.48 L1140.25,923.7 L1143.61,919.92 L1146.96,916.13 L1150.32,912.33 L1153.67,908.53 L1157.03,904.73 L1160.39,900.92 L1163.74,897.12 L1167.1,893.32 L1170.45,889.52 L1173.81,885.73 L1177.17,881.94 L1180.52,878.17 L1183.88,874.4 L1187.24,870.65 L1190.59,866.91 L1193.95,863.19 L1197.3,859.49 L1200.66,855.8 L1204.02,852.14 L1207.37,848.5 L1210.73,844.88 L1214.08,841.29 L1217.44,837.73 L1220.8,834.19 L1224.15,830.68 L1227.51,827.2 L1230.86,823.75 L1234.22,820.33 L1237.58,816.94 L1240.93,813.59 L1244.29,810.27 L1247.65,806.98 L1251,803.72 L1254.36,800.5 L1257.71,797.32 L1261.07,794.17 L1264.43,791.06 L1267.78,787.99 L1271.14,784.95 L1274.49,781.96 L1277.85,779.01 L1281.21,776.1 L1284.56,773.23 L1287.92,770.4 L1291.27,767.62 L1294.63,764.89 L1297.99,762.19 L1301.34,759.55 L1304.7,756.95 L1308.06,754.4 L1311.41,751.9 L1314.77,749.45 L1318.12,747.05 L1321.48,744.71 L1324.84,742.43 L1328.19,740.2 L1331.55,738.03 L1334.9,735.92 L1338.26,733.87 L1341.62,731.89 L1344.97,729.97 L1348.33,728.11 L1351.68,726.33 L1355.04,724.61 L1358.4,722.95 L1361.75,721.36 L1365.11,719.82 L1368.47,718.34 L1371.82,716.91 L1375.18,715.53 L1378.53,714.2 L1381.89,712.91 L1385.25,711.67 L1388.6,710.47 L1391.96,709.3 L1395.31,708.17 L1398.67,707.07 L1402.03,705.99 L1405.38,704.95 L1408.74,703.92 L1412.09,702.92 L1415.45,701.94 L1418.81,700.97 L1422.16,700.02 L1425.52,699.07 L1428.88,698.14 L1432.23,697.21 L1435.59,696.28 L1438.94,695.35 L1442.3,694.42" fill="none" stroke="#1010f0" stroke-width="2.6"/>
<circle cx="975.8" cy="1063.9" r="5.61" fill="#1010f0"/>
<circle cx="1069.1" cy="1007.22" r="5.61" fill="#1010f0"/>
<circle cx="1162.4" cy="902.54" r="5.61" fill="#1010f0"/>
<circle cx="1255.7" cy="797.48" r="5.61" fill="#1010f0"/>
<circle cx="1349" cy="720.01" r="5.61" fill="#1010f0"/>
<circle cx="1442.3" cy="693.56" r="5.61" fill="#1010f0"/>
<path d="M975.8,1063.89 L979.16,1062 L982.51,1060.08 L985.87,1058.13 L989.22,1056.14 L992.58,1054.13 L995.94,1052.08 L999.29,1049.99 L1002.65,1047.87 L1006.01,1045.71 L1009.36,1043.52 L1012.72,1041.28 L1016.07,1039 L1019.43,1036.67 L1022.79,1034.3 L1026.14,1031.89 L1029.5,1029.43 L1032.85,1026.92 L1036.21,1024.36 L1039.57,1021.74 L1042.92,1019.08 L1046.28,1016.36 L1049.63,1013.58 L1052.99,1010.75 L1056.35,1007.86 L1059.7,1004.91 L1063.06,1001.9 L1066.42,998.83 L1069.77,995.69 L1073.13,992.49 L1076.48,989.23 L1079.84,985.91 L1083.2,982.53 L1086.55,979.11 L1089.91,975.63 L1093.26,972.1 L1096.62,968.54 L1099.98,964.93 L1103.33,961.28 L1106.69,957.6 L1110.04,953.88 L1113.4,950.14 L1116.76,946.37 L1120.11,942.58 L1123.47,938.76 L1126.83,934.93 L1130.18,931.08 L1133.54,927.21 L1136.89,923.33 L1140.25,919.44 L1143.61,915.54 L1146.96,911.64 L1150.32,907.73 L1153.67,903.82 L1157.03,899.91 L1160.39,896 L1163.74,892.1 L1167.1,888.2 L1170.45,884.31 L1173.81,880.44 L1177.17,876.58 L1180.52,872.73 L1183.88,868.9 L1187.24,865.09 L1190.59,861.3 L1193.95,857.54 L1197.3,853.8 L1200.66,850.1 L1204.02,846.42 L1207.37,842.78 L1210.73,839.17 L1214.08,835.6 L1217.44,832.06 L1220.8,828.56 L1224.15,825.1 L1227.51,821.68 L1230.86,818.29 L1234.22,814.94 L1237.58,811.62 L1240.93,808.34 L1244.29,805.1 L1247.65,801.9 L1251,798.74 L1254.36,795.61 L1257.71,792.52 L1261.07,789.47 L1264.43,786.45 L1267.78,783.47 L1271.14,780.54 L1274.49,777.64 L1277.85,774.77 L1281.21,771.95 L1284.56,769.16 L1287.92,766.42 L1291.27,763.71 L1294.63,761.04 L1297.99,758.41 L1301.34,755.82 L1304.7,753.26 L1308.06,750.75 L1311.41,748.28 L1314.77,745.86 L1318.12,743.49 L1321.48,741.16 L1324.84,738.89 L1328.19,736.67 L1331.55,734.52 L1334.9,732.42 L1338.26,730.39 L1341.62,728.42 L1344.97,726.52 L1348.33,724.69 L1351.68,722.93 L1355.04,721.24 L1358.4,719.62 L1361.75,718.07 L1365.11,716.58 L1368.47,715.14 L1371.82,713.76 L1375.18,712.44 L1378.53,711.16 L1381.89,709.93 L1385.25,708.74 L1388.6,707.59 L1391.96,706.48 L1395.31,705.4 L1398.67,704.36 L1402.03,703.34 L1405.38,702.34 L1408.74,701.37 L1412.09,700.42 L1415.45,699.48 L1418.81,698.55 L1422.16,697.63 L1425.52,696.72 L1428.88,695.81 L1432.23,694.9 L1435.59,693.98 L1438.94,693.06 L1442.3,692.13" fill="none" stroke="#18c888" stroke-width="2.6"/>
<polygon points="975.8,1055.65 983.5,1068.85 968.1,1068.85" fill="#18c888"/>
<polygon points="1069.1,995.19 1076.8,1008.39 1061.4,1008.39" fill="#18c888"/>
<polygon points="1162.4,889.37 1170.1,902.57 1154.7,902.57" fill="#18c888"/>
<polygon points="1255.7,785.45 1263.4,798.65 1248,798.65" fill="#18c888"/>
<polygon points="1349,711.76 1356.7,724.96 1341.3,724.96" fill="#18c888"/>
<polygon points="1442.3,683.42 1450,696.62 1434.6,696.62" fill="#18c888"/>
<path d="M975.8,1063.89 L979.16,1062.33 L982.51,1060.7 L985.87,1059 L989.22,1057.24 L992.58,1055.4 L995.94,1053.49 L999.29,1051.52 L1002.65,1049.49 L1006.01,1047.39 L1009.36,1045.22 L1012.72,1043 L1016.07,1040.71 L1019.43,1038.36 L1022.79,1035.95 L1026.14,1033.48 L1029.5,1030.96 L1032.85,1028.38 L1036.21,1025.74 L1039.57,1023.05 L1042.92,1020.3 L1046.28,1017.5 L1049.63,1014.65 L1052.99,1011.75 L1056.35,1008.8 L1059.7,1005.8 L1063.06,1002.75 L1066.42,999.66 L1069.77,996.52 L1073.13,993.33 L1076.48,990.1 L1079.84,986.83 L1083.2,983.52 L1086.55,980.16 L1089.91,976.76 L1093.26,973.33 L1096.62,969.86 L1099.98,966.34 L1103.33,962.8 L1106.69,959.22 L1110.04,955.6 L1113.4,951.95 L1116.76,948.27 L1120.11,944.56 L1123.47,940.82 L1126.83,937.05 L1130.18,933.26 L1133.54,929.45 L1136.89,925.62 L1140.25,921.77 L1143.61,917.91 L1146.96,914.04 L1150.32,910.16 L1153.67,906.27 L1157.03,902.38 L1160.39,898.48 L1163.74,894.59 L1167.1,890.7 L1170.45,886.82 L1173.81,882.94 L1177.17,879.07 L1180.52,875.22 L1183.88,871.38 L1187.24,867.56 L1190.59,863.76 L1193.95,859.98 L1197.3,856.23 L1200.66,852.51 L1204.02,848.81 L1207.37,845.15 L1210.73,841.52 L1214.08,837.92 L1217.44,834.37 L1220.8,830.85 L1224.15,827.36 L1227.51,823.91 L1230.86,820.5 L1234.22,817.13 L1237.58,813.79 L1240.93,810.49 L1244.29,807.23 L1247.65,804 L1251,800.81 L1254.36,797.66 L1257.71,794.55 L1261.07,791.48 L1264.43,788.44 L1267.78,785.45 L1271.14,782.49 L1274.49,779.57 L1277.85,776.69 L1281.21,773.85 L1284.56,771.05 L1287.92,768.28 L1291.27,765.56 L1294.63,762.88 L1297.99,760.23 L1301.34,757.63 L1304.7,755.07 L1308.06,752.54 L1311.41,750.07 L1314.77,747.64 L1318.12,745.25 L1321.48,742.92 L1324.84,740.64 L1328.19,738.42 L1331.55,736.25 L1334.9,734.14 L1338.26,732.1 L1341.62,730.11 L1344.97,728.2 L1348.33,726.35 L1351.68,724.57 L1355.04,722.86 L1358.4,721.21 L1361.75,719.63 L1365.11,718.11 L1368.47,716.64 L1371.82,715.23 L1375.18,713.87 L1378.53,712.56 L1381.89,711.29 L1385.25,710.07 L1388.6,708.89 L1391.96,707.75 L1395.31,706.64 L1398.67,705.56 L1402.03,704.51 L1405.38,703.49 L1408.74,702.49 L1412.09,701.51 L1415.45,700.55 L1418.81,699.61 L1422.16,698.67 L1425.52,697.75 L1428.88,696.83 L1432.23,695.92 L1435.59,695.01 L1438.94,694.09 L1442.3,693.17" fill="none" stroke="#ff10ff" stroke-width="2.6"/>
<polygon points="975.8,1072.15 983.5,1058.95 968.1,1058.95" fill="#ff10ff"/>
<polygon points="1069.1,1015.47 1076.8,1002.27 1061.4,1002.27" fill="#ff10ff"/>
<polygon points="1162.4,905.87 1170.1,892.67 1154.7,892.67" fill="#ff10ff"/>
<polygon points="1255.7,790.61 1263.4,777.41 1248,777.41" fill="#ff10ff"/>
<polygon points="1349,728.26 1356.7,715.06 1341.3,715.06" fill="#ff10ff"/>
<polygon points="1442.3,703.7 1450,690.5 1434.6,690.5" fill="#ff10ff"/>
<path d="M975.8,1063.89 L979.16,1061.79 L982.51,1059.68 L985.87,1057.57 L989.22,1055.45 L992.58,1053.32 L995.94,1051.17 L999.29,1049 L1002.65,1046.82 L1006.01,1044.61 L1009.36,1042.37 L1012.72,1040.11 L1016.07,1037.82 L1019.43,1035.49 L1022.79,1033.13 L1026.14,1030.74 L1029.5,1028.3 L1032.85,1025.81 L1036.21,1023.28 L1039.57,1020.7 L1042.92,1018.07 L1046.28,1015.39 L1049.63,1012.65 L1052.99,1009.85 L1056.35,1006.99 L1059.7,1004.06 L1063.06,1001.06 L1066.42,998 L1069.77,994.86 L1073.13,991.65 L1076.48,988.37 L1079.84,985.03 L1083.2,981.62 L1086.55,978.15 L1089.91,974.63 L1093.26,971.05 L1096.62,967.43 L1099.98,963.76 L1103.33,960.06 L1106.69,956.32 L1110.04,952.55 L1113.4,948.75 L1116.76,944.92 L1120.11,941.07 L1123.47,937.21 L1126.83,933.32 L1130.18,929.42 L1133.54,925.51 L1136.89,921.59 L1140.25,917.66 L1143.61,913.73 L1146.96,909.79 L1150.32,905.85 L1153.67,901.91 L1157.03,897.97 L1160.39,894.04 L1163.74,890.12 L1167.1,886.21 L1170.45,882.3 L1173.81,878.42 L1177.17,874.54 L1180.52,870.69 L1183.88,866.86 L1187.24,863.05 L1190.59,859.26 L1193.95,855.5 L1197.3,851.77 L1200.66,848.08 L1204.02,844.41 L1207.37,840.79 L1210.73,837.2 L1214.08,833.65 L1217.44,830.14 L1220.8,826.67 L1224.15,823.23 L1227.51,819.84 L1230.86,816.48 L1234.22,813.16 L1237.58,809.88 L1240.93,806.64 L1244.29,803.43 L1247.65,800.27 L1251,797.14 L1254.36,794.04 L1257.71,790.98 L1261.07,787.96 L1264.43,784.98 L1267.78,782.03 L1271.14,779.12 L1274.49,776.24 L1277.85,773.4 L1281.21,770.59 L1284.56,767.82 L1287.92,765.08 L1291.27,762.38 L1294.63,759.71 L1297.99,757.08 L1301.34,754.48 L1304.7,751.91 L1308.06,749.38 L1311.41,746.9 L1314.77,744.45 L1318.12,742.05 L1321.48,739.7 L1324.84,737.4 L1328.19,735.16 L1331.55,732.99 L1334.9,730.87 L1338.26,728.82 L1341.62,726.85 L1344.97,724.94 L1348.33,723.12 L1351.68,721.38 L1355.04,719.71 L1358.4,718.12 L1361.75,716.6 L1365.11,715.15 L1368.47,713.76 L1371.82,712.43 L1375.18,711.16 L1378.53,709.93 L1381.89,708.76 L1385.25,707.63 L1388.6,706.54 L1391.96,705.48 L1395.31,704.46 L1398.67,703.46 L1402.03,702.49 L1405.38,701.54 L1408.74,700.6 L1412.09,699.68 L1415.45,698.77 L1418.81,697.86 L1422.16,696.95 L1425.52,696.04 L1428.88,695.12 L1432.23,694.19 L1435.59,693.25 L1438.94,692.29 L1442.3,691.3" fill="none" stroke="#000" stroke-width="2.6"/>
<polygon points="975.8,1056.2 982.95,1063.9 975.8,1071.6 968.65,1063.9" fill="#000"/>
<polygon points="1069.1,988.56 1076.25,996.26 1069.1,1003.96 1061.95,996.26" fill="#000"/>
<polygon points="1162.4,883.12 1169.55,890.82 1162.4,898.52 1155.25,890.82" fill="#000"/>
<polygon points="1255.7,777.31 1262.85,785.01 1255.7,792.71 1248.55,785.01" fill="#000"/>
<polygon points="1349,708.91 1356.15,716.61 1349,724.31 1341.85,716.61" fill="#000"/>
<polygon points="1442.3,681.7 1449.45,689.4 1442.3,697.1 1435.15,689.4" fill="#000"/>
<path d="M892,677.4H926.5 M940.3,677.4H975.5" stroke="#ff0000" stroke-width="2.6" stroke-linecap="round"/>
<rect x="928.4" y="672.4" width="10" height="10" fill="#ff0000"/>
<text x="989.8" y="687.4" text-anchor="start" font-family='"Liberation Sans", sans-serif' font-size="29.1" transform="matrix(1 0 0 1.045 0 -30.93)">0.5 MHz</text>
<path d="M892,719.3H926.5 M940.3,719.3H975.5" stroke="#1010f0" stroke-width="2.6" stroke-linecap="round"/>
<circle cx="933.4" cy="719.3" r="5.1" fill="#1010f0"/>
<text x="989.8" y="729.3" text-anchor="start" font-family='"Liberation Sans", sans-serif' font-size="29.1" transform="matrix(1 0 0 1.045 0 -32.82)">0.7 MHz</text>
<path d="M892,761.2H926.5 M940.3,761.2H975.5" stroke="#18c888" stroke-width="2.6" stroke-linecap="round"/>
<polygon points="933.4,753.7 940.4,765.7 926.4,765.7" fill="#18c888"/>
<text x="989.8" y="771.2" text-anchor="start" font-family='"Liberation Sans", sans-serif' font-size="29.1" transform="matrix(1 0 0 1.045 0 -34.7)">0.9 MHz</text>
<path d="M892,803.1H926.5 M940.3,803.1H975.5" stroke="#ff10ff" stroke-width="2.6" stroke-linecap="round"/>
<polygon points="933.4,810.6 940.4,798.6 926.4,798.6" fill="#ff10ff"/>
<text x="989.8" y="813.1" text-anchor="start" font-family='"Liberation Sans", sans-serif' font-size="29.1" transform="matrix(1 0 0 1.045 0 -36.59)">1.1 MHz</text>
<path d="M892,845H926.5 M940.3,845H975.5" stroke="#000" stroke-width="2.6" stroke-linecap="round"/>
<polygon points="933.4,838 939.9,845 933.4,852 926.9,845" fill="#000"/>
<text x="989.8" y="855" text-anchor="start" font-family='"Liberation Sans", sans-serif' font-size="29.1" transform="matrix(1 0 0 1.045 0 -38.47)">1.3 MHz</text>
<g font-family='"Liberation Sans", sans-serif' font-weight="bold" font-size="42">
<text x="-1" y="30">a</text>
<text x="757.6" y="30">b</text>
<text x="-1" y="660">c</text>
<text x="757.6" y="660">d</text>
</g>
</svg>
</body></html>
